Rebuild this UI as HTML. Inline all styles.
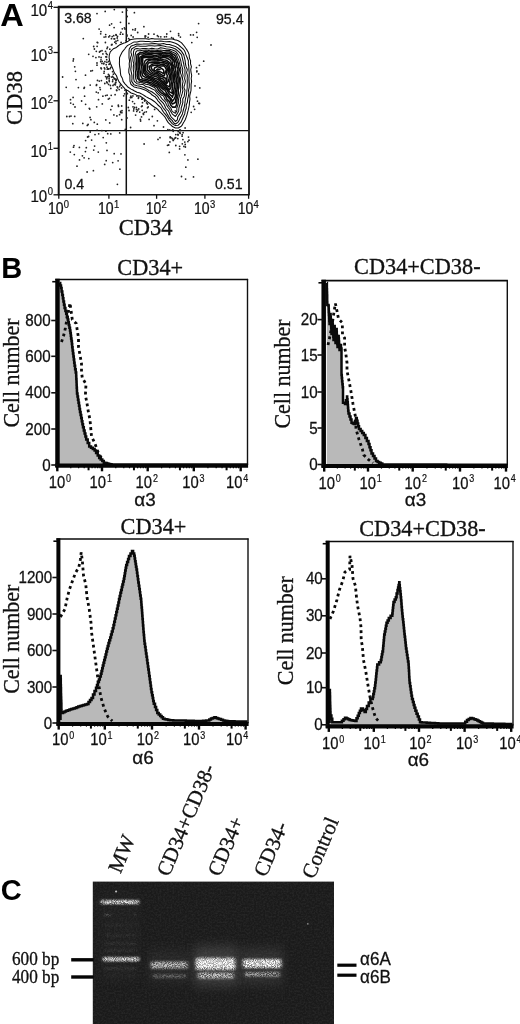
<!DOCTYPE html><html><head><meta charset="utf-8"><title>Figure</title><style>html,body{margin:0;padding:0;background:#fff}svg{display:block}</style></head><body>
<svg width="520" height="1024" viewBox="0 0 520 1024">
<defs>
<filter id="b1" x="-30%" y="-100%" width="160%" height="300%"><feGaussianBlur stdDeviation="1.6 1.1"/></filter>
<filter id="b2" x="-30%" y="-100%" width="160%" height="300%"><feGaussianBlur stdDeviation="2.0 1.5"/></filter>
<filter id="hz" x="-50%" y="-50%" width="200%" height="200%"><feGaussianBlur stdDeviation="5 6"/></filter>
<filter id="gn" x="0" y="0" width="100%" height="100%"><feTurbulence type="fractalNoise" baseFrequency="0.55" numOctaves="2" seed="11" result="n"/><feColorMatrix in="n" type="matrix" values="0 0 0 0 1  0 0 0 0 1  0 0 0 0 1  2.2 0 0 0 -0.75"/></filter>
<filter id="sp" x="-20%" y="-80%" width="140%" height="260%"><feGaussianBlur in="SourceGraphic" stdDeviation="1.7 1.25" result="b"/><feTurbulence type="fractalNoise" baseFrequency="1.1" numOctaves="1" seed="4" result="n"/><feColorMatrix in="n" type="matrix" values="0 0 0 0 1  0 0 0 0 1  0 0 0 0 1  3.6 0 0 0 -1.25" result="na"/><feComposite in="b" in2="na" operator="in"/></filter>
<clipPath id="gelclip"><rect x="92.8" y="881.6" width="241.2" height="142.4"/></clipPath>
</defs>
<rect width="520" height="1024" fill="#fff"/>
<g opacity="0.999">
<text transform="translate(0.30,25.60) scale(1.05,1)" font-family='"Liberation Sans", sans-serif' font-size="31" font-weight="bold" text-anchor="start" fill="#000" stroke="#000" stroke-width="0.0">A</text>
<line x1="57.80" y1="7.00" x2="249.70" y2="7.00" stroke="#111" stroke-width="2.3" />
<line x1="249.00" y1="7.30" x2="249.00" y2="194.80" stroke="#111" stroke-width="1.8" />
<line x1="57.80" y1="194.80" x2="249.70" y2="194.80" stroke="#111" stroke-width="1.6" />
<line x1="58.70" y1="7.30" x2="58.70" y2="194.80" stroke="#111" stroke-width="2.0" />
<line x1="126.30" y1="7.30" x2="126.30" y2="194.80" stroke="#111" stroke-width="1.5" />
<line x1="58.70" y1="130.60" x2="248.80" y2="130.60" stroke="#111" stroke-width="1.4" />
<line x1="53.50" y1="7.30" x2="58.70" y2="7.30" stroke="#111" stroke-width="1.3" />
<line x1="53.50" y1="52.50" x2="58.70" y2="52.50" stroke="#111" stroke-width="1.3" />
<line x1="53.50" y1="100.80" x2="58.70" y2="100.80" stroke="#111" stroke-width="1.3" />
<line x1="53.50" y1="148.30" x2="58.70" y2="148.30" stroke="#111" stroke-width="1.3" />
<line x1="53.50" y1="194.80" x2="58.70" y2="194.80" stroke="#111" stroke-width="1.3" />
<line x1="58.80" y1="194.80" x2="58.80" y2="198.80" stroke="#111" stroke-width="1.3" />
<line x1="108.90" y1="194.80" x2="108.90" y2="198.80" stroke="#111" stroke-width="1.3" />
<line x1="156.60" y1="194.80" x2="156.60" y2="198.80" stroke="#111" stroke-width="1.3" />
<line x1="204.90" y1="194.80" x2="204.90" y2="198.80" stroke="#111" stroke-width="1.3" />
<line x1="248.60" y1="194.80" x2="248.60" y2="198.80" stroke="#111" stroke-width="1.3" />
<text transform="translate(30.40,15.60) scale(0.88,1)" font-family='"Liberation Sans", sans-serif' font-size="17.2" fill="#111" stroke="#111" stroke-width="0.25">10</text>
<text transform="translate(47.80,9.20) scale(0.9,1)" font-family='"Liberation Sans", sans-serif' font-size="10.5" fill="#111" stroke="#111" stroke-width="0.2">4</text>
<text transform="translate(30.40,60.80) scale(0.88,1)" font-family='"Liberation Sans", sans-serif' font-size="17.2" fill="#111" stroke="#111" stroke-width="0.25">10</text>
<text transform="translate(47.80,54.40) scale(0.9,1)" font-family='"Liberation Sans", sans-serif' font-size="10.5" fill="#111" stroke="#111" stroke-width="0.2">3</text>
<text transform="translate(30.40,109.10) scale(0.88,1)" font-family='"Liberation Sans", sans-serif' font-size="17.2" fill="#111" stroke="#111" stroke-width="0.25">10</text>
<text transform="translate(47.80,102.70) scale(0.9,1)" font-family='"Liberation Sans", sans-serif' font-size="10.5" fill="#111" stroke="#111" stroke-width="0.2">2</text>
<text transform="translate(30.40,156.60) scale(0.88,1)" font-family='"Liberation Sans", sans-serif' font-size="17.2" fill="#111" stroke="#111" stroke-width="0.25">10</text>
<text transform="translate(47.80,150.20) scale(0.9,1)" font-family='"Liberation Sans", sans-serif' font-size="10.5" fill="#111" stroke="#111" stroke-width="0.2">1</text>
<text transform="translate(30.40,201.50) scale(0.88,1)" font-family='"Liberation Sans", sans-serif' font-size="17.2" fill="#111" stroke="#111" stroke-width="0.25">10</text>
<text transform="translate(47.80,195.10) scale(0.9,1)" font-family='"Liberation Sans", sans-serif' font-size="10.5" fill="#111" stroke="#111" stroke-width="0.2">0</text>
<text transform="translate(47.90,213.90) scale(0.9,1)" font-family='"Liberation Sans", sans-serif' font-size="15.6" fill="#111" stroke="#111" stroke-width="0.25">10</text>
<text transform="translate(63.80,207.50) scale(0.9,1)" font-family='"Liberation Sans", sans-serif' font-size="10.5" fill="#111" stroke="#111" stroke-width="0.2">0</text>
<text transform="translate(98.00,213.90) scale(0.9,1)" font-family='"Liberation Sans", sans-serif' font-size="15.6" fill="#111" stroke="#111" stroke-width="0.25">10</text>
<text transform="translate(113.90,207.50) scale(0.9,1)" font-family='"Liberation Sans", sans-serif' font-size="10.5" fill="#111" stroke="#111" stroke-width="0.2">1</text>
<text transform="translate(145.70,213.90) scale(0.9,1)" font-family='"Liberation Sans", sans-serif' font-size="15.6" fill="#111" stroke="#111" stroke-width="0.25">10</text>
<text transform="translate(161.60,207.50) scale(0.9,1)" font-family='"Liberation Sans", sans-serif' font-size="10.5" fill="#111" stroke="#111" stroke-width="0.2">2</text>
<text transform="translate(194.00,213.90) scale(0.9,1)" font-family='"Liberation Sans", sans-serif' font-size="15.6" fill="#111" stroke="#111" stroke-width="0.25">10</text>
<text transform="translate(209.90,207.50) scale(0.9,1)" font-family='"Liberation Sans", sans-serif' font-size="10.5" fill="#111" stroke="#111" stroke-width="0.2">3</text>
<text transform="translate(237.70,213.90) scale(0.9,1)" font-family='"Liberation Sans", sans-serif' font-size="15.6" fill="#111" stroke="#111" stroke-width="0.25">10</text>
<text transform="translate(253.60,207.50) scale(0.9,1)" font-family='"Liberation Sans", sans-serif' font-size="10.5" fill="#111" stroke="#111" stroke-width="0.2">4</text>
<text transform="translate(64.20,22.90) scale(0.92,1)" font-family='"Liberation Sans", sans-serif' font-size="15.4" font-weight="normal" text-anchor="start" fill="#111" stroke="#111" stroke-width="0.28">3.68</text>
<text transform="translate(216.00,23.80) scale(0.92,1)" font-family='"Liberation Sans", sans-serif' font-size="15.4" font-weight="normal" text-anchor="start" fill="#111" stroke="#111" stroke-width="0.28">95.4</text>
<text transform="translate(64.50,189.30) scale(0.92,1)" font-family='"Liberation Sans", sans-serif' font-size="15.4" font-weight="normal" text-anchor="start" fill="#111" stroke="#111" stroke-width="0.28">0.4</text>
<text transform="translate(215.00,189.30) scale(0.92,1)" font-family='"Liberation Sans", sans-serif' font-size="15.4" font-weight="normal" text-anchor="start" fill="#111" stroke="#111" stroke-width="0.28">0.51</text>
<text transform="translate(21.80,98.00) rotate(-90) scale(1.0,1)" font-family='"Liberation Serif", serif' font-size="22.5" font-style="normal" text-anchor="middle" fill="#111" stroke="#111" stroke-width="0.32">CD38</text>
<text transform="translate(145.70,234.60) rotate(0) scale(1.0,1)" font-family='"Liberation Serif", serif' font-size="22.5" font-style="normal" text-anchor="middle" fill="#111" stroke="#111" stroke-width="0.32">CD34</text>
<circle cx="113.4" cy="74.2" r="0.88" fill="#222"/>
<circle cx="106.7" cy="59.7" r="0.88" fill="#222"/>
<circle cx="99.3" cy="81.1" r="0.88" fill="#222"/>
<circle cx="99.1" cy="29.1" r="0.88" fill="#222"/>
<circle cx="107.1" cy="54.6" r="0.88" fill="#222"/>
<circle cx="109.4" cy="98.4" r="0.88" fill="#222"/>
<circle cx="121.6" cy="87.9" r="0.88" fill="#222"/>
<circle cx="109.8" cy="49.2" r="0.88" fill="#222"/>
<circle cx="111.5" cy="44.9" r="0.88" fill="#222"/>
<circle cx="110.8" cy="88.4" r="0.88" fill="#222"/>
<circle cx="107.9" cy="68.9" r="0.88" fill="#222"/>
<circle cx="120.3" cy="34.2" r="0.88" fill="#222"/>
<circle cx="116.5" cy="90.1" r="0.88" fill="#222"/>
<circle cx="95.9" cy="57.6" r="0.88" fill="#222"/>
<circle cx="101.4" cy="80.6" r="0.88" fill="#222"/>
<circle cx="117.2" cy="38.0" r="0.88" fill="#222"/>
<circle cx="111.5" cy="38.7" r="0.88" fill="#222"/>
<circle cx="106.3" cy="53.4" r="0.88" fill="#222"/>
<circle cx="128.9" cy="23.4" r="0.88" fill="#222"/>
<circle cx="101.4" cy="68.8" r="0.88" fill="#222"/>
<circle cx="97.0" cy="13.6" r="0.88" fill="#222"/>
<circle cx="104.8" cy="83.5" r="0.88" fill="#222"/>
<circle cx="100.3" cy="89.6" r="0.88" fill="#222"/>
<circle cx="96.3" cy="51.3" r="0.88" fill="#222"/>
<circle cx="124.4" cy="27.8" r="0.88" fill="#222"/>
<circle cx="114.2" cy="84.4" r="0.88" fill="#222"/>
<circle cx="102.9" cy="96.2" r="0.88" fill="#222"/>
<circle cx="117.2" cy="86.9" r="0.88" fill="#222"/>
<circle cx="107.2" cy="82.9" r="0.88" fill="#222"/>
<circle cx="102.2" cy="61.3" r="0.88" fill="#222"/>
<circle cx="128.6" cy="38.6" r="0.88" fill="#222"/>
<circle cx="108.1" cy="76.6" r="0.88" fill="#222"/>
<circle cx="115.9" cy="82.5" r="0.88" fill="#222"/>
<circle cx="112.6" cy="71.7" r="0.88" fill="#222"/>
<circle cx="134.4" cy="12.7" r="0.88" fill="#222"/>
<circle cx="104.8" cy="68.9" r="0.88" fill="#222"/>
<circle cx="111.7" cy="77.1" r="0.88" fill="#222"/>
<circle cx="88.7" cy="54.3" r="0.88" fill="#222"/>
<circle cx="126.1" cy="40.6" r="0.88" fill="#222"/>
<circle cx="115.3" cy="83.1" r="0.88" fill="#222"/>
<circle cx="124.6" cy="93.8" r="0.88" fill="#222"/>
<circle cx="99.0" cy="56.9" r="0.88" fill="#222"/>
<circle cx="112.6" cy="76.5" r="0.88" fill="#222"/>
<circle cx="126.9" cy="10.3" r="0.88" fill="#222"/>
<circle cx="126.9" cy="35.0" r="0.88" fill="#222"/>
<circle cx="122.8" cy="34.2" r="0.88" fill="#222"/>
<circle cx="117.8" cy="87.9" r="0.88" fill="#222"/>
<circle cx="115.1" cy="94.7" r="0.88" fill="#222"/>
<circle cx="100.7" cy="33.8" r="0.88" fill="#222"/>
<circle cx="105.7" cy="34.6" r="0.88" fill="#222"/>
<circle cx="116.0" cy="41.2" r="0.88" fill="#222"/>
<circle cx="123.7" cy="95.8" r="0.88" fill="#222"/>
<circle cx="107.1" cy="95.2" r="0.88" fill="#222"/>
<circle cx="96.3" cy="92.1" r="0.88" fill="#222"/>
<circle cx="127.4" cy="93.7" r="0.88" fill="#222"/>
<circle cx="108.6" cy="84.4" r="0.88" fill="#222"/>
<circle cx="93.0" cy="56.3" r="0.88" fill="#222"/>
<circle cx="97.5" cy="80.4" r="0.88" fill="#222"/>
<circle cx="115.9" cy="80.7" r="0.88" fill="#222"/>
<circle cx="116.8" cy="90.5" r="0.88" fill="#222"/>
<circle cx="115.4" cy="84.8" r="0.88" fill="#222"/>
<circle cx="130.9" cy="96.2" r="0.88" fill="#222"/>
<circle cx="109.3" cy="81.6" r="0.88" fill="#222"/>
<circle cx="97.2" cy="42.3" r="0.88" fill="#222"/>
<circle cx="96.4" cy="85.4" r="0.88" fill="#222"/>
<circle cx="103.7" cy="63.7" r="0.88" fill="#222"/>
<circle cx="110.1" cy="68.7" r="0.88" fill="#222"/>
<circle cx="114.0" cy="38.8" r="0.88" fill="#222"/>
<circle cx="110.4" cy="85.5" r="0.88" fill="#222"/>
<circle cx="99.5" cy="52.0" r="0.88" fill="#222"/>
<circle cx="116.1" cy="80.1" r="0.88" fill="#222"/>
<circle cx="117.7" cy="40.4" r="0.88" fill="#222"/>
<circle cx="100.4" cy="51.2" r="0.88" fill="#222"/>
<circle cx="107.0" cy="48.6" r="0.88" fill="#222"/>
<circle cx="100.7" cy="61.7" r="0.88" fill="#222"/>
<circle cx="104.2" cy="71.3" r="0.88" fill="#222"/>
<circle cx="92.4" cy="70.6" r="0.88" fill="#222"/>
<circle cx="109.6" cy="25.2" r="0.88" fill="#222"/>
<circle cx="93.7" cy="46.5" r="0.88" fill="#222"/>
<circle cx="120.5" cy="22.3" r="0.88" fill="#222"/>
<circle cx="125.0" cy="90.2" r="0.88" fill="#222"/>
<circle cx="135.4" cy="28.8" r="0.88" fill="#222"/>
<circle cx="120.7" cy="112.5" r="0.88" fill="#222"/>
<circle cx="106.7" cy="77.8" r="0.88" fill="#222"/>
<circle cx="106.9" cy="62.2" r="0.88" fill="#222"/>
<circle cx="105.8" cy="56.8" r="0.88" fill="#222"/>
<circle cx="107.5" cy="47.2" r="0.88" fill="#222"/>
<circle cx="122.4" cy="12.1" r="0.88" fill="#222"/>
<circle cx="96.6" cy="84.7" r="0.88" fill="#222"/>
<circle cx="129.3" cy="100.2" r="0.88" fill="#222"/>
<circle cx="102.0" cy="50.7" r="0.88" fill="#222"/>
<circle cx="112.0" cy="44.5" r="0.88" fill="#222"/>
<circle cx="104.1" cy="37.1" r="0.88" fill="#222"/>
<circle cx="107.3" cy="69.2" r="0.88" fill="#222"/>
<circle cx="94.4" cy="49.0" r="0.88" fill="#222"/>
<circle cx="108.7" cy="61.5" r="0.88" fill="#222"/>
<circle cx="112.8" cy="79.8" r="0.88" fill="#222"/>
<circle cx="109.7" cy="64.0" r="0.88" fill="#222"/>
<circle cx="114.7" cy="38.8" r="0.88" fill="#222"/>
<circle cx="120.2" cy="85.1" r="0.88" fill="#222"/>
<circle cx="97.0" cy="65.2" r="0.88" fill="#222"/>
<circle cx="106.7" cy="78.8" r="0.88" fill="#222"/>
<circle cx="105.2" cy="11.4" r="0.88" fill="#222"/>
<circle cx="105.6" cy="95.6" r="0.88" fill="#222"/>
<circle cx="112.2" cy="36.6" r="0.88" fill="#222"/>
<circle cx="108.4" cy="74.4" r="0.88" fill="#222"/>
<circle cx="114.5" cy="78.6" r="0.88" fill="#222"/>
<circle cx="113.0" cy="85.4" r="0.88" fill="#222"/>
<circle cx="113.9" cy="114.9" r="0.88" fill="#222"/>
<circle cx="116.9" cy="115.9" r="0.88" fill="#222"/>
<circle cx="112.6" cy="81.5" r="0.88" fill="#222"/>
<circle cx="104.3" cy="67.8" r="0.88" fill="#222"/>
<circle cx="119.6" cy="86.6" r="0.88" fill="#222"/>
<circle cx="113.6" cy="77.7" r="0.88" fill="#222"/>
<circle cx="105.5" cy="51.4" r="0.88" fill="#222"/>
<circle cx="116.0" cy="34.7" r="0.88" fill="#222"/>
<circle cx="111.6" cy="23.8" r="0.88" fill="#222"/>
<circle cx="109.2" cy="75.4" r="0.88" fill="#222"/>
<circle cx="113.7" cy="35.7" r="0.88" fill="#222"/>
<circle cx="114.1" cy="27.6" r="0.88" fill="#222"/>
<circle cx="97.0" cy="63.0" r="0.88" fill="#222"/>
<circle cx="122.3" cy="28.8" r="0.88" fill="#222"/>
<circle cx="97.7" cy="42.7" r="0.88" fill="#222"/>
<circle cx="109.7" cy="35.9" r="0.88" fill="#222"/>
<circle cx="102.9" cy="53.9" r="0.88" fill="#222"/>
<circle cx="105.4" cy="42.5" r="0.88" fill="#222"/>
<circle cx="120.9" cy="32.3" r="0.88" fill="#222"/>
<circle cx="103.6" cy="63.5" r="0.88" fill="#222"/>
<circle cx="114.3" cy="9.6" r="0.88" fill="#222"/>
<circle cx="106.2" cy="64.7" r="0.88" fill="#222"/>
<circle cx="101.0" cy="68.0" r="0.88" fill="#222"/>
<circle cx="117.5" cy="36.4" r="0.88" fill="#222"/>
<circle cx="108.8" cy="36.9" r="0.88" fill="#222"/>
<circle cx="104.9" cy="61.7" r="0.88" fill="#222"/>
<circle cx="127.2" cy="16.5" r="0.88" fill="#222"/>
<circle cx="108.5" cy="68.9" r="0.88" fill="#222"/>
<circle cx="122.0" cy="110.7" r="0.88" fill="#222"/>
<circle cx="119.2" cy="89.6" r="0.88" fill="#222"/>
<circle cx="121.1" cy="42.4" r="0.88" fill="#222"/>
<circle cx="118.5" cy="106.4" r="0.88" fill="#222"/>
<circle cx="107.9" cy="69.2" r="0.88" fill="#222"/>
<circle cx="108.3" cy="99.1" r="0.88" fill="#222"/>
<circle cx="109.1" cy="78.4" r="0.88" fill="#222"/>
<circle cx="109.2" cy="80.2" r="0.88" fill="#222"/>
<circle cx="110.8" cy="109.7" r="0.88" fill="#222"/>
<circle cx="116.0" cy="79.7" r="0.88" fill="#222"/>
<circle cx="98.5" cy="99.7" r="0.88" fill="#222"/>
<circle cx="129.7" cy="39.7" r="0.88" fill="#222"/>
<circle cx="100.9" cy="31.6" r="0.88" fill="#222"/>
<circle cx="114.8" cy="42.2" r="0.88" fill="#222"/>
<circle cx="116.2" cy="35.2" r="0.88" fill="#222"/>
<circle cx="107.0" cy="67.2" r="0.88" fill="#222"/>
<circle cx="111.2" cy="95.3" r="0.88" fill="#222"/>
<circle cx="106.6" cy="56.9" r="0.88" fill="#222"/>
<circle cx="121.7" cy="106.0" r="0.88" fill="#222"/>
<circle cx="109.0" cy="64.3" r="0.88" fill="#222"/>
<circle cx="143.9" cy="26.7" r="0.88" fill="#222"/>
<circle cx="110.8" cy="67.4" r="0.88" fill="#222"/>
<circle cx="116.5" cy="79.4" r="0.88" fill="#222"/>
<circle cx="97.1" cy="46.3" r="0.88" fill="#222"/>
<circle cx="116.0" cy="43.4" r="0.88" fill="#222"/>
<circle cx="105.6" cy="76.6" r="0.88" fill="#222"/>
<circle cx="109.5" cy="76.7" r="0.88" fill="#222"/>
<circle cx="101.9" cy="63.4" r="0.88" fill="#222"/>
<circle cx="115.0" cy="79.0" r="0.88" fill="#222"/>
<circle cx="107.2" cy="76.8" r="0.88" fill="#222"/>
<circle cx="98.2" cy="92.8" r="0.88" fill="#222"/>
<circle cx="125.0" cy="29.0" r="0.88" fill="#222"/>
<circle cx="101.0" cy="59.8" r="0.88" fill="#222"/>
<circle cx="105.8" cy="36.8" r="0.88" fill="#222"/>
<circle cx="133.1" cy="37.0" r="0.88" fill="#222"/>
<circle cx="197.2" cy="37.3" r="0.88" fill="#222"/>
<circle cx="148.6" cy="34.0" r="0.88" fill="#222"/>
<circle cx="171.6" cy="37.6" r="0.88" fill="#222"/>
<circle cx="137.7" cy="32.5" r="0.88" fill="#222"/>
<circle cx="166.4" cy="36.7" r="0.88" fill="#222"/>
<circle cx="131.2" cy="35.4" r="0.88" fill="#222"/>
<circle cx="148.1" cy="37.4" r="0.88" fill="#222"/>
<circle cx="157.4" cy="35.7" r="0.88" fill="#222"/>
<circle cx="190.6" cy="34.9" r="0.88" fill="#222"/>
<circle cx="178.6" cy="33.7" r="0.88" fill="#222"/>
<circle cx="193.3" cy="34.9" r="0.88" fill="#222"/>
<circle cx="158.4" cy="36.6" r="0.88" fill="#222"/>
<circle cx="127.0" cy="36.0" r="0.88" fill="#222"/>
<circle cx="145.1" cy="37.1" r="0.88" fill="#222"/>
<circle cx="135.1" cy="30.1" r="0.88" fill="#222"/>
<circle cx="160.8" cy="36.8" r="0.88" fill="#222"/>
<circle cx="154.0" cy="34.2" r="0.88" fill="#222"/>
<circle cx="170.5" cy="31.3" r="0.88" fill="#222"/>
<circle cx="145.1" cy="35.9" r="0.88" fill="#222"/>
<circle cx="178.7" cy="35.5" r="0.88" fill="#222"/>
<circle cx="166.8" cy="34.0" r="0.88" fill="#222"/>
<circle cx="145.8" cy="36.1" r="0.88" fill="#222"/>
<circle cx="132.8" cy="29.7" r="0.88" fill="#222"/>
<circle cx="173.3" cy="38.4" r="0.88" fill="#222"/>
<circle cx="164.5" cy="36.8" r="0.88" fill="#222"/>
<circle cx="180.4" cy="37.1" r="0.88" fill="#222"/>
<circle cx="196.6" cy="32.3" r="0.88" fill="#222"/>
<circle cx="154.0" cy="125.7" r="0.88" fill="#222"/>
<circle cx="141.9" cy="99.2" r="0.88" fill="#222"/>
<circle cx="133.8" cy="109.0" r="0.88" fill="#222"/>
<circle cx="142.5" cy="102.7" r="0.88" fill="#222"/>
<circle cx="139.7" cy="112.1" r="0.88" fill="#222"/>
<circle cx="127.0" cy="118.0" r="0.88" fill="#222"/>
<circle cx="121.7" cy="119.7" r="0.88" fill="#222"/>
<circle cx="146.3" cy="111.8" r="0.88" fill="#222"/>
<circle cx="144.6" cy="100.4" r="0.88" fill="#222"/>
<circle cx="121.9" cy="112.7" r="0.88" fill="#222"/>
<circle cx="142.4" cy="98.8" r="0.88" fill="#222"/>
<circle cx="146.6" cy="102.9" r="0.88" fill="#222"/>
<circle cx="136.5" cy="109.4" r="0.88" fill="#222"/>
<circle cx="140.4" cy="119.4" r="0.88" fill="#222"/>
<circle cx="137.8" cy="110.1" r="0.88" fill="#222"/>
<circle cx="144.7" cy="101.1" r="0.88" fill="#222"/>
<circle cx="143.5" cy="114.4" r="0.88" fill="#222"/>
<circle cx="134.5" cy="107.5" r="0.88" fill="#222"/>
<circle cx="128.3" cy="107.5" r="0.88" fill="#222"/>
<circle cx="132.9" cy="95.9" r="0.88" fill="#222"/>
<circle cx="136.8" cy="111.4" r="0.88" fill="#222"/>
<circle cx="149.1" cy="119.4" r="0.88" fill="#222"/>
<circle cx="142.1" cy="106.0" r="0.88" fill="#222"/>
<circle cx="125.3" cy="129.4" r="0.88" fill="#222"/>
<circle cx="141.5" cy="106.6" r="0.88" fill="#222"/>
<circle cx="154.6" cy="109.4" r="0.88" fill="#222"/>
<circle cx="143.3" cy="113.4" r="0.88" fill="#222"/>
<circle cx="138.6" cy="97.2" r="0.88" fill="#222"/>
<circle cx="130.5" cy="97.7" r="0.88" fill="#222"/>
<circle cx="142.2" cy="110.3" r="0.88" fill="#222"/>
<circle cx="157.4" cy="120.8" r="0.88" fill="#222"/>
<circle cx="131.8" cy="97.4" r="0.88" fill="#222"/>
<circle cx="109.7" cy="122.9" r="0.88" fill="#222"/>
<circle cx="132.6" cy="101.6" r="0.88" fill="#222"/>
<circle cx="118.3" cy="105.2" r="0.88" fill="#222"/>
<circle cx="148.2" cy="106.9" r="0.88" fill="#222"/>
<circle cx="140.6" cy="121.0" r="0.88" fill="#222"/>
<circle cx="127.1" cy="93.3" r="0.88" fill="#222"/>
<circle cx="144.5" cy="112.3" r="0.88" fill="#222"/>
<circle cx="147.5" cy="107.8" r="0.88" fill="#222"/>
<circle cx="141.5" cy="116.9" r="0.88" fill="#222"/>
<circle cx="136.9" cy="96.0" r="0.88" fill="#222"/>
<circle cx="138.7" cy="108.9" r="0.88" fill="#222"/>
<circle cx="147.5" cy="104.0" r="0.88" fill="#222"/>
<circle cx="129.0" cy="110.5" r="0.88" fill="#222"/>
<circle cx="138.4" cy="98.3" r="0.88" fill="#222"/>
<circle cx="152.3" cy="116.5" r="0.88" fill="#222"/>
<circle cx="133.0" cy="106.8" r="0.88" fill="#222"/>
<circle cx="130.6" cy="127.5" r="0.88" fill="#222"/>
<circle cx="135.6" cy="115.1" r="0.88" fill="#222"/>
<circle cx="133.6" cy="110.9" r="0.88" fill="#222"/>
<circle cx="136.4" cy="107.5" r="0.88" fill="#222"/>
<circle cx="120.6" cy="111.4" r="0.88" fill="#222"/>
<circle cx="119.6" cy="114.7" r="0.88" fill="#222"/>
<circle cx="134.5" cy="103.6" r="0.88" fill="#222"/>
<circle cx="199.8" cy="87.9" r="0.88" fill="#222"/>
<circle cx="191.8" cy="42.6" r="0.88" fill="#222"/>
<circle cx="199.5" cy="103.5" r="0.88" fill="#222"/>
<circle cx="193.6" cy="106.5" r="0.88" fill="#222"/>
<circle cx="197.5" cy="101.2" r="0.88" fill="#222"/>
<circle cx="198.7" cy="103.3" r="0.88" fill="#222"/>
<circle cx="198.6" cy="23.6" r="0.88" fill="#222"/>
<circle cx="196.5" cy="97.3" r="0.88" fill="#222"/>
<circle cx="203.7" cy="61.2" r="0.88" fill="#222"/>
<circle cx="195.0" cy="85.9" r="0.88" fill="#222"/>
<circle cx="198.7" cy="73.9" r="0.88" fill="#222"/>
<circle cx="199.4" cy="65.3" r="0.88" fill="#222"/>
<circle cx="196.8" cy="71.8" r="0.88" fill="#222"/>
<circle cx="196.5" cy="67.7" r="0.88" fill="#222"/>
<circle cx="191.2" cy="112.3" r="0.88" fill="#222"/>
<circle cx="196.9" cy="71.0" r="0.88" fill="#222"/>
<circle cx="179.6" cy="148.9" r="0.88" fill="#222"/>
<circle cx="170.2" cy="136.8" r="0.88" fill="#222"/>
<circle cx="182.3" cy="143.8" r="0.88" fill="#222"/>
<circle cx="187.9" cy="141.6" r="0.88" fill="#222"/>
<circle cx="178.1" cy="134.9" r="0.88" fill="#222"/>
<circle cx="180.1" cy="133.3" r="0.88" fill="#222"/>
<circle cx="169.8" cy="129.9" r="0.88" fill="#222"/>
<circle cx="173.2" cy="131.3" r="0.88" fill="#222"/>
<circle cx="168.7" cy="145.0" r="0.88" fill="#222"/>
<circle cx="167.5" cy="145.3" r="0.88" fill="#222"/>
<circle cx="169.9" cy="141.9" r="0.88" fill="#222"/>
<circle cx="189.0" cy="140.2" r="0.88" fill="#222"/>
<circle cx="172.2" cy="138.5" r="0.88" fill="#222"/>
<circle cx="173.1" cy="139.8" r="0.88" fill="#222"/>
<circle cx="174.2" cy="138.9" r="0.88" fill="#222"/>
<circle cx="183.9" cy="146.4" r="0.88" fill="#222"/>
<circle cx="185.2" cy="144.5" r="0.88" fill="#222"/>
<circle cx="175.7" cy="137.8" r="0.88" fill="#222"/>
<circle cx="175.8" cy="134.6" r="0.88" fill="#222"/>
<circle cx="175.3" cy="137.7" r="0.88" fill="#222"/>
<circle cx="170.2" cy="137.7" r="0.88" fill="#222"/>
<circle cx="182.1" cy="136.2" r="0.88" fill="#222"/>
<circle cx="194.6" cy="109.3" r="0.88" fill="#222"/>
<circle cx="185.8" cy="167.2" r="0.88" fill="#222"/>
<circle cx="158.0" cy="139.4" r="0.88" fill="#222"/>
<circle cx="182.2" cy="134.7" r="0.88" fill="#222"/>
<circle cx="184.8" cy="142.1" r="0.88" fill="#222"/>
<circle cx="178.2" cy="131.5" r="0.88" fill="#222"/>
<circle cx="183.1" cy="132.7" r="0.88" fill="#222"/>
<circle cx="179.8" cy="132.4" r="0.88" fill="#222"/>
<circle cx="160.0" cy="137.7" r="0.88" fill="#222"/>
<circle cx="179.6" cy="146.3" r="0.88" fill="#222"/>
<circle cx="171.0" cy="137.6" r="0.88" fill="#222"/>
<circle cx="182.9" cy="139.6" r="0.88" fill="#222"/>
<circle cx="187.9" cy="159.9" r="0.88" fill="#222"/>
<circle cx="184.9" cy="154.8" r="0.88" fill="#222"/>
<circle cx="185.4" cy="147.0" r="0.88" fill="#222"/>
<circle cx="173.1" cy="130.2" r="0.88" fill="#222"/>
<circle cx="185.1" cy="128.0" r="0.88" fill="#222"/>
<circle cx="163.5" cy="127.0" r="0.88" fill="#222"/>
<circle cx="197.9" cy="159.2" r="0.88" fill="#222"/>
<circle cx="172.5" cy="130.0" r="0.88" fill="#222"/>
<circle cx="179.9" cy="129.8" r="0.88" fill="#222"/>
<circle cx="188.5" cy="137.1" r="0.88" fill="#222"/>
<circle cx="169.3" cy="152.4" r="0.88" fill="#222"/>
<circle cx="173.3" cy="140.4" r="0.88" fill="#222"/>
<circle cx="177.9" cy="134.5" r="0.88" fill="#222"/>
<circle cx="180.6" cy="130.4" r="0.88" fill="#222"/>
<circle cx="167.9" cy="129.7" r="0.88" fill="#222"/>
<circle cx="177.8" cy="138.6" r="0.88" fill="#222"/>
<circle cx="95.0" cy="134.6" r="0.88" fill="#222"/>
<circle cx="70.7" cy="103.1" r="0.88" fill="#222"/>
<circle cx="93.7" cy="150.1" r="0.88" fill="#222"/>
<circle cx="82.8" cy="123.4" r="0.88" fill="#222"/>
<circle cx="101.9" cy="130.6" r="0.88" fill="#222"/>
<circle cx="98.3" cy="152.1" r="0.88" fill="#222"/>
<circle cx="74.7" cy="116.4" r="0.88" fill="#222"/>
<circle cx="70.5" cy="99.7" r="0.88" fill="#222"/>
<circle cx="85.4" cy="151.6" r="0.88" fill="#222"/>
<circle cx="106.2" cy="160.7" r="0.88" fill="#222"/>
<circle cx="106.7" cy="82.0" r="0.88" fill="#222"/>
<circle cx="73.5" cy="147.2" r="0.88" fill="#222"/>
<circle cx="110.8" cy="133.9" r="0.88" fill="#222"/>
<circle cx="69.5" cy="116.5" r="0.88" fill="#222"/>
<circle cx="73.1" cy="97.4" r="0.88" fill="#222"/>
<circle cx="112.0" cy="106.2" r="0.88" fill="#222"/>
<circle cx="106.3" cy="142.8" r="0.88" fill="#222"/>
<circle cx="74.0" cy="145.6" r="0.88" fill="#222"/>
<circle cx="114.2" cy="153.7" r="0.88" fill="#222"/>
<circle cx="107.7" cy="133.7" r="0.88" fill="#222"/>
<circle cx="94.3" cy="122.4" r="0.88" fill="#222"/>
<circle cx="89.3" cy="108.3" r="0.88" fill="#222"/>
<circle cx="79.5" cy="159.9" r="0.88" fill="#222"/>
<circle cx="121.0" cy="153.9" r="0.88" fill="#222"/>
<circle cx="90.9" cy="71.0" r="0.88" fill="#222"/>
<circle cx="119.7" cy="132.9" r="0.88" fill="#222"/>
<circle cx="84.4" cy="87.5" r="0.88" fill="#222"/>
<circle cx="84.0" cy="88.3" r="0.88" fill="#222"/>
<circle cx="86.3" cy="147.7" r="0.88" fill="#222"/>
<circle cx="85.6" cy="140.6" r="0.88" fill="#222"/>
<circle cx="73.2" cy="60.9" r="0.88" fill="#222"/>
<circle cx="81.6" cy="101.0" r="0.88" fill="#222"/>
<circle cx="66.8" cy="116.5" r="0.88" fill="#222"/>
<circle cx="90.2" cy="85.1" r="0.88" fill="#222"/>
<circle cx="97.3" cy="124.2" r="0.88" fill="#222"/>
<circle cx="87.3" cy="125.4" r="0.88" fill="#222"/>
<circle cx="84.1" cy="157.8" r="0.88" fill="#222"/>
<circle cx="83.3" cy="38.6" r="0.88" fill="#222"/>
<circle cx="84.6" cy="96.2" r="0.88" fill="#222"/>
<circle cx="96.7" cy="106.8" r="0.88" fill="#222"/>
<circle cx="66.2" cy="87.3" r="0.88" fill="#222"/>
<circle cx="73.5" cy="59.0" r="0.88" fill="#222"/>
<circle cx="71.0" cy="116.1" r="0.88" fill="#222"/>
<circle cx="119.9" cy="169.2" r="0.88" fill="#222"/>
<circle cx="87.6" cy="137.0" r="0.88" fill="#222"/>
<circle cx="117.4" cy="184.3" r="0.88" fill="#222"/>
<circle cx="79.4" cy="147.4" r="0.88" fill="#222"/>
<circle cx="90.2" cy="132.0" r="0.88" fill="#222"/>
<circle cx="76.0" cy="79.6" r="0.88" fill="#222"/>
<circle cx="75.4" cy="71.3" r="0.88" fill="#222"/>
<circle cx="107.0" cy="150.4" r="0.88" fill="#222"/>
<circle cx="101.1" cy="57.5" r="0.88" fill="#222"/>
<circle cx="118.1" cy="160.8" r="0.88" fill="#222"/>
<circle cx="94.6" cy="146.1" r="0.88" fill="#222"/>
<circle cx="88.6" cy="136.5" r="0.88" fill="#222"/>
<circle cx="104.0" cy="73.2" r="0.88" fill="#222"/>
<circle cx="62.6" cy="77.0" r="0.88" fill="#222"/>
<circle cx="75.0" cy="107.0" r="0.88" fill="#222"/>
<circle cx="91.6" cy="140.1" r="0.88" fill="#222"/>
<circle cx="85.6" cy="104.3" r="0.88" fill="#222"/>
<circle cx="77.0" cy="166.2" r="0.88" fill="#222"/>
<circle cx="98.7" cy="133.8" r="0.88" fill="#222"/>
<circle cx="74.3" cy="154.6" r="0.88" fill="#222"/>
<circle cx="105.8" cy="119.9" r="0.88" fill="#222"/>
<circle cx="99.9" cy="87.6" r="0.88" fill="#222"/>
<circle cx="103.2" cy="137.6" r="0.88" fill="#222"/>
<circle cx="72.8" cy="123.7" r="0.88" fill="#222"/>
<circle cx="90.1" cy="117.4" r="0.88" fill="#222"/>
<circle cx="89.7" cy="109.0" r="0.88" fill="#222"/>
<circle cx="97.1" cy="130.2" r="0.88" fill="#222"/>
<circle cx="105.9" cy="131.2" r="0.88" fill="#222"/>
<circle cx="93.4" cy="170.7" r="0.88" fill="#222"/>
<circle cx="82.4" cy="155.8" r="0.88" fill="#222"/>
<circle cx="78.4" cy="87.6" r="0.88" fill="#222"/>
<circle cx="104.7" cy="164.4" r="0.88" fill="#222"/>
<circle cx="112.7" cy="162.6" r="0.88" fill="#222"/>
<circle cx="74.7" cy="66.8" r="0.88" fill="#222"/>
<circle cx="73.3" cy="104.3" r="0.88" fill="#222"/>
<circle cx="70.3" cy="152.1" r="0.88" fill="#222"/>
<circle cx="90.9" cy="119.7" r="0.88" fill="#222"/>
<circle cx="88.1" cy="124.5" r="0.88" fill="#222"/>
<circle cx="88.8" cy="158.6" r="0.88" fill="#222"/>
<circle cx="102.3" cy="103.9" r="0.88" fill="#222"/>
<circle cx="87.1" cy="172.0" r="0.88" fill="#222"/>
<circle cx="85.5" cy="75.2" r="0.88" fill="#222"/>
<circle cx="154.5" cy="175.9" r="0.88" fill="#222"/>
<circle cx="144.1" cy="144.0" r="0.88" fill="#222"/>
<circle cx="185.6" cy="179.1" r="0.88" fill="#222"/>
<circle cx="175.8" cy="145.5" r="0.88" fill="#222"/>
<circle cx="193.5" cy="176.9" r="0.88" fill="#222"/>
<circle cx="211.0" cy="45.0" r="0.88" fill="#222"/>
<circle cx="181.5" cy="176.5" r="0.88" fill="#222"/>
<path d="M129.7,40.1L131.1,39.6L134.1,39.1L137.0,38.8L140.0,38.8L142.9,38.8L145.9,38.7L148.8,39.3L151.8,38.6L154.7,39.0L157.7,39.0L160.6,39.1L163.6,39.2L166.5,39.2L169.5,39.0L172.4,39.1L175.4,40.0L176.2,40.1L178.3,40.7L181.3,42.6L181.8,43.1L184.2,46.0L184.2,46.0L186.3,49.0L187.2,50.4L188.1,51.9L189.2,54.9L189.4,57.8L190.1,59.6L190.6,60.8L190.5,63.7L191.4,66.7L190.7,69.6L191.1,72.6L191.7,75.5L191.2,78.5L191.6,81.4L191.1,84.4L191.1,87.3L191.0,90.3L190.4,93.2L190.1,94.2L189.7,96.2L190.0,99.1L189.5,102.1L189.3,105.0L188.7,108.0L188.0,110.9L187.2,113.9L187.2,114.2L186.3,116.8L185.2,119.8L184.2,121.5L183.4,122.7L181.8,125.7L181.3,126.2L178.3,128.0L175.4,127.9L172.4,126.6L171.6,125.7L169.5,123.8L168.3,122.7L166.5,119.9L166.5,119.8L164.8,116.8L163.6,115.5L162.1,113.9L160.6,112.4L159.0,110.9L157.7,109.3L156.0,108.0L154.7,107.2L151.8,105.3L151.5,105.0L148.8,102.7L148.0,102.1L145.9,100.4L144.5,99.1L142.9,98.0L140.3,96.2L140.0,96.0L137.0,95.4L134.1,93.9L131.9,93.2L131.1,93.0L128.2,90.8L127.1,90.3L125.2,89.1L123.7,87.3L122.3,85.9L121.1,84.4L119.3,82.2L118.8,81.4L117.5,78.5L116.4,75.5L116.4,75.5L114.2,72.6L113.4,70.3L113.2,69.6L111.9,66.7L110.6,63.7L110.5,63.4L109.7,60.8L109.1,57.8L109.3,54.9L110.3,51.9L110.5,51.7L113.1,49.0L113.4,48.8L116.4,47.4L118.1,46.0L119.3,45.1L122.3,43.7L123.9,43.1L125.2,42.7L128.2,41.2L129.7,40.1Z" fill="#fff" stroke="none"/>
<path d="M131.3,46.0L134.1,45.1L137.0,43.9L140.0,44.2L142.9,44.1L145.9,43.9L148.8,44.0L151.8,43.7L154.7,43.6L157.7,44.1L160.6,44.1L163.6,43.6L166.5,44.4L169.5,44.4L172.4,45.6L174.1,46.0L175.4,46.4L178.3,48.3L179.1,49.0L181.3,51.0L181.9,51.9L183.8,54.9L184.2,56.7L184.5,57.8L185.2,60.8L185.4,63.7L186.1,66.7L187.2,69.3L187.3,69.6L187.2,70.2L186.6,72.6L187.2,74.7L187.4,75.5L187.2,78.0L187.1,78.5L187.2,79.1L187.3,81.4L187.2,84.4L187.2,87.3L187.2,88.0L186.9,90.3L186.6,93.2L186.1,96.2L185.4,99.1L185.0,102.1L184.7,105.0L184.2,107.0L183.9,108.0L183.1,111.0L182.4,113.9L181.3,116.1L180.8,116.8L179.4,119.8L178.3,121.9L177.4,122.7L175.4,124.0L173.5,122.7L172.4,120.7L171.5,119.8L169.5,118.0L168.9,116.8L167.1,113.9L166.5,112.6L165.7,110.9L163.6,108.4L163.3,108.0L161.5,105.0L160.6,103.8L159.2,102.1L157.7,100.6L156.9,99.1L154.7,96.4L154.1,96.2L151.8,94.8L150.4,93.2L148.8,92.3L145.9,90.4L145.6,90.3L142.9,89.3L140.0,88.3L137.0,87.8L135.5,87.3L134.1,86.9L131.1,84.5L131.0,84.4L130.0,81.4L129.9,78.5L129.9,75.5L128.8,72.6L128.8,69.6L129.4,66.7L129.2,63.8L129.6,60.8L129.0,57.8L129.0,54.9L129.0,51.9L129.2,49.0L131.1,46.1L131.3,46.0Z" fill="none" stroke="#0a0a0a" stroke-width="1.05" stroke-linejoin="round"/>
<path d="M136.7,46.0L137.0,45.9L138.7,46.0L140.0,46.2L142.9,46.3L145.9,46.3L147.3,46.0L148.8,45.8L151.8,45.7L154.4,46.0L154.7,46.1L154.9,46.0L157.7,45.7L160.6,45.5L163.4,46.0L163.6,46.1L166.5,46.7L169.5,47.1L172.4,47.8L175.4,48.9L175.5,49.0L178.3,51.3L178.9,51.9L181.3,54.4L181.6,54.9L182.3,57.8L183.0,60.8L183.7,63.8L184.2,66.7L184.2,66.7L185.1,69.6L184.9,72.6L185.1,75.5L184.6,78.5L185.4,81.4L184.7,84.4L184.2,86.0L183.9,87.3L184.2,88.2L185.0,90.3L184.6,93.2L184.2,96.2L184.2,96.3L182.7,99.1L182.9,102.1L182.2,105.0L181.3,107.7L181.2,108.0L181.2,110.9L179.7,113.9L178.3,116.1L177.8,116.8L177.3,119.8L175.4,121.5L174.2,119.8L172.4,118.1L171.1,116.8L169.7,113.9L169.5,113.3L168.4,110.9L166.5,109.0L165.7,108.0L164.4,105.0L163.6,103.7L162.3,102.1L160.6,100.5L159.2,99.1L157.7,96.6L157.4,96.2L154.7,93.9L153.8,93.2L151.8,91.8L148.8,90.5L148.5,90.3L145.9,88.6L143.1,87.3L142.9,87.2L140.0,86.2L137.0,85.7L134.1,84.7L133.7,84.4L131.7,81.4L132.0,78.5L131.9,75.5L131.4,72.6L131.1,71.3L130.8,69.6L131.1,67.1L131.2,66.7L131.3,63.7L131.1,61.8L131.0,60.8L130.5,57.8L131.1,56.1L131.6,54.9L131.1,52.9L130.9,51.9L131.1,50.8L131.6,49.0L134.1,47.4L136.7,46.0Z" fill="none" stroke="#0a0a0a" stroke-width="1.05" stroke-linejoin="round"/>
<path d="M134.9,49.0L137.0,48.4L139.5,49.0L140.0,49.1L140.4,49.0L142.9,48.4L145.9,48.5L148.8,49.0L151.8,48.3L154.7,48.8L156.9,49.0L157.7,49.0L157.8,49.0L160.6,47.8L163.6,48.3L166.5,48.9L167.4,49.0L169.5,49.3L172.4,49.9L175.4,51.3L176.1,51.9L178.3,54.6L178.6,54.9L179.9,57.8L180.8,60.8L181.2,63.7L181.3,64.1L182.0,66.7L182.8,69.6L182.5,72.6L183.1,75.5L182.4,78.5L183.1,81.4L182.5,84.4L182.3,87.3L182.9,90.3L182.3,93.2L181.4,96.2L181.3,96.5L180.3,99.1L180.8,102.1L179.8,105.0L178.9,108.0L178.7,110.9L178.3,111.8L177.1,113.9L175.4,116.5L172.4,114.2L172.3,113.9L170.5,110.9L169.5,109.1L168.4,108.0L166.6,105.0L166.5,104.8L165.4,102.1L163.6,100.3L162.3,99.1L160.6,96.9L160.2,96.2L157.7,93.8L157.0,93.2L154.9,90.3L154.7,90.1L151.8,88.7L148.9,87.3L148.8,87.3L145.9,86.6L142.9,84.4L142.9,84.4L140.0,84.2L137.0,83.7L134.3,81.4L134.1,80.6L133.7,78.5L133.6,75.5L133.8,72.6L133.3,69.6L133.3,66.7L133.8,63.8L133.0,60.8L132.7,57.8L133.4,54.9L133.5,51.9L134.1,49.9L134.9,49.0Z" fill="none" stroke="#0a0a0a" stroke-width="1.05" stroke-linejoin="round"/>
<path d="M135.9,51.9L137.0,50.8L140.0,50.8L142.9,50.3L145.9,50.0L148.8,50.6L151.8,50.1L154.7,50.3L157.7,50.4L160.6,50.0L163.6,50.4L166.5,50.5L169.5,50.6L172.3,51.9L172.4,52.0L175.4,53.4L176.6,54.9L177.7,57.8L178.3,59.2L179.0,60.8L179.7,63.8L180.2,66.7L180.9,69.6L180.4,72.6L181.3,75.1L181.4,75.5L181.3,76.1L180.6,78.5L180.7,81.4L180.6,84.4L180.7,87.3L180.6,90.3L180.1,93.2L179.5,96.2L178.5,99.1L178.7,102.1L178.3,103.3L177.9,105.0L176.8,108.0L176.9,110.9L175.4,113.2L172.4,111.6L172.0,110.9L170.8,108.0L169.5,106.6L168.3,105.0L167.8,102.1L166.5,100.8L164.8,99.1L163.7,96.2L163.6,96.1L160.6,94.5L159.3,93.2L157.7,91.6L156.6,90.3L154.7,87.8L154.0,87.3L151.8,86.3L148.8,84.8L147.2,84.4L145.9,84.2L142.9,83.0L140.0,82.6L137.0,81.7L136.7,81.4L135.7,78.5L135.4,75.5L135.6,72.6L135.2,69.6L135.0,66.7L135.3,63.8L134.9,60.8L134.9,57.8L135.2,54.9L135.9,51.9Z" fill="none" stroke="#0a0a0a" stroke-width="1.05" stroke-linejoin="round"/>
<path d="M143.5,51.9L145.9,51.4L148.3,51.9L148.8,52.1L149.5,51.9L151.8,51.5L154.7,51.7L157.7,51.7L160.6,51.6L161.8,51.9L163.6,52.5L166.5,52.0L169.3,51.9L169.5,51.9L169.5,51.9L172.4,54.0L174.2,54.9L175.4,56.0L176.1,57.8L177.2,60.8L178.3,63.6L178.3,63.7L178.5,66.7L179.4,69.6L178.8,72.6L178.8,75.5L179.3,78.5L179.3,81.4L179.0,84.4L178.8,87.3L178.3,89.8L178.2,90.3L178.3,93.2L177.8,96.2L177.0,99.1L176.9,102.1L176.4,105.0L175.4,107.1L172.4,107.1L170.7,105.0L169.6,102.1L169.5,101.6L166.9,99.1L166.5,98.7L165.8,96.2L163.6,94.4L161.6,93.2L160.6,92.2L158.6,90.3L157.7,88.5L157.0,87.3L154.7,86.0L151.8,84.7L151.2,84.4L148.8,83.1L145.9,82.2L142.9,81.8L141.5,81.4L140.0,81.0L137.7,78.5L137.1,75.5L137.4,72.6L137.0,70.7L136.8,69.6L136.6,66.7L136.7,63.7L136.8,60.8L136.7,57.8L137.0,55.0L137.0,54.9L140.0,52.5L142.9,52.2L143.5,51.9Z" fill="none" stroke="#0a0a0a" stroke-width="1.55" stroke-linejoin="round"/>
<path d="M175.3,110.9L175.4,110.9L175.4,110.9L175.4,111.0L175.3,110.9Z" fill="none" stroke="#0a0a0a" stroke-width="1.55" stroke-linejoin="round"/>
<path d="M138.8,54.9L140.0,54.0L142.9,54.0L145.9,52.7L148.8,53.4L151.8,53.0L154.7,53.5L157.7,53.2L160.6,53.0L163.6,54.1L166.5,53.6L169.5,53.7L171.2,54.9L172.4,55.9L174.4,57.8L175.4,60.1L175.6,60.8L176.6,63.7L176.9,66.7L178.0,69.6L177.4,72.6L177.1,75.5L178.0,78.5L178.1,81.4L177.6,84.4L177.4,87.3L176.8,90.3L176.5,93.2L176.6,96.2L175.8,99.1L175.4,102.1L175.4,102.5L172.4,104.0L171.2,102.1L170.1,99.1L169.5,98.4L167.4,96.2L166.5,95.0L163.9,93.2L163.6,92.7L161.3,90.3L160.6,89.8L159.0,87.3L157.7,86.0L154.7,84.7L154.0,84.4L151.8,82.9L148.8,81.9L147.6,81.4L145.9,80.7L142.9,80.3L140.0,79.5L139.0,78.5L138.8,75.5L138.9,72.6L138.3,69.6L138.1,66.7L138.1,63.7L138.3,60.8L138.2,57.8L138.8,54.9Z" fill="none" stroke="#0a0a0a" stroke-width="1.55" stroke-linejoin="round"/>
<path d="M144.6,54.9L145.9,54.3L148.8,54.8L151.8,54.7L152.5,54.9L154.7,55.5L157.7,54.9L157.7,54.9L160.6,54.4L161.9,54.9L163.6,55.5L166.5,55.1L169.5,55.4L172.4,57.8L172.4,57.8L174.3,60.8L174.6,63.7L175.2,66.7L175.4,68.4L175.6,69.6L176.0,72.6L175.7,75.5L176.3,78.5L176.6,81.4L176.1,84.4L176.0,87.3L175.4,90.3L175.4,90.6L175.0,93.2L175.4,96.0L175.4,96.2L175.4,96.3L174.0,99.1L172.4,101.4L171.4,99.1L169.5,96.9L168.8,96.2L166.7,93.2L166.5,92.8L165.0,90.3L163.6,89.6L160.9,87.3L160.6,87.0L158.0,84.4L157.7,84.2L154.7,83.1L152.3,81.4L151.8,81.1L148.8,80.3L145.9,79.3L142.9,78.7L142.2,78.5L140.6,75.5L140.4,72.6L140.0,70.2L139.9,69.6L139.7,66.7L139.5,63.7L139.8,60.8L139.8,57.8L140.0,57.2L142.9,55.5L144.6,54.9Z" fill="none" stroke="#0a0a0a" stroke-width="1.55" stroke-linejoin="round"/>
<path d="M141.2,57.8L142.9,56.6L145.9,55.9L148.8,56.2L151.8,56.2L154.7,57.0L157.7,56.6L160.6,55.8L163.6,56.5L166.5,56.5L169.5,57.0L170.5,57.8L172.4,59.6L173.2,60.8L172.4,63.6L172.4,63.7L172.4,63.8L174.2,66.7L173.6,69.6L174.5,72.6L174.4,75.5L174.7,78.5L175.1,81.5L174.2,84.4L174.4,87.3L173.8,90.3L173.7,93.2L172.7,96.2L172.4,97.2L171.8,96.2L169.5,94.3L168.8,93.2L167.1,90.3L166.5,89.6L163.6,88.0L162.8,87.3L160.6,85.1L159.9,84.4L157.7,82.8L154.9,81.4L154.7,81.4L151.8,79.7L148.9,78.5L148.8,78.5L145.9,77.6L142.9,75.9L142.6,75.5L141.9,72.6L142.0,69.6L141.7,66.7L140.9,63.8L141.3,60.8L141.2,57.8Z" fill="none" stroke="#0a0a0a" stroke-width="1.55" stroke-linejoin="round"/>
<path d="M142.7,57.8L142.9,57.7L145.9,57.5L148.8,57.6L151.8,57.7L152.2,57.8L154.7,58.5L157.7,58.2L158.8,57.8L160.6,57.2L163.6,57.6L165.7,57.8L166.5,58.0L169.5,59.5L170.9,60.8L171.2,63.7L172.4,65.5L173.1,66.7L172.4,68.7L172.0,69.6L172.4,71.2L172.9,72.6L173.3,75.5L173.3,78.5L173.6,81.4L172.4,83.8L172.2,84.4L172.4,86.2L172.6,87.3L172.4,88.8L172.0,90.3L172.4,92.7L172.4,93.2L172.4,93.4L172.3,93.2L169.5,91.9L168.4,90.3L166.5,88.4L164.8,87.3L163.6,85.9L162.1,84.4L160.6,83.2L157.7,81.4L157.7,81.4L154.7,79.9L152.2,78.5L151.8,78.3L148.8,77.2L145.9,75.7L145.7,75.5L143.4,72.6L143.5,69.6L143.4,66.7L142.9,65.4L142.2,63.7L142.7,60.8L142.7,57.8Z" fill="none" stroke="#0a0a0a" stroke-width="1.55" stroke-linejoin="round"/>
<path d="M145.1,60.8L145.9,60.0L148.8,59.1L151.8,59.3L154.7,59.8L157.7,59.5L160.6,58.7L163.6,59.7L166.5,60.3L167.3,60.8L169.5,62.6L170.0,63.7L171.7,66.7L170.9,69.6L171.3,72.6L172.1,75.5L171.9,78.5L171.9,81.4L171.0,84.4L171.0,87.3L169.5,89.9L167.0,87.3L166.5,87.0L164.1,84.4L163.6,83.8L160.8,81.4L160.6,81.3L157.7,79.3L155.1,78.5L154.7,78.4L151.8,76.9L148.8,75.9L148.2,75.5L145.9,73.6L145.1,72.6L144.5,69.6L144.5,66.7L143.9,63.7L145.1,60.8Z" fill="none" stroke="#0a0a0a" stroke-width="1.55" stroke-linejoin="round"/>
<path d="M148.4,60.8L148.8,60.6L150.6,60.8L151.8,60.9L154.7,61.1L157.1,60.8L157.7,60.7L160.6,60.1L162.0,60.8L163.6,61.4L166.5,62.0L168.5,63.7L169.4,66.7L169.5,66.9L169.8,69.6L169.8,72.6L170.8,75.5L170.5,78.5L169.8,81.4L169.9,84.4L169.5,86.9L166.5,85.4L165.6,84.4L163.6,82.2L162.7,81.4L160.6,79.8L158.8,78.5L157.7,77.2L154.7,76.3L152.0,75.5L151.8,75.5L148.8,73.8L147.4,72.6L145.9,71.0L145.4,69.6L145.7,66.7L145.9,63.9L145.9,63.7L148.4,60.8Z" fill="none" stroke="#0a0a0a" stroke-width="1.55" stroke-linejoin="round"/>
<path d="M147.9,63.7L148.8,62.7L151.8,62.8L154.7,62.3L157.7,62.0L160.6,62.2L163.6,62.7L166.5,63.5L166.8,63.7L168.1,66.7L168.7,69.6L168.0,72.6L169.5,75.5L169.5,75.5L169.5,75.7L169.0,78.5L168.3,81.4L166.5,83.8L164.5,81.4L163.6,79.3L161.6,78.5L160.6,78.3L158.0,75.5L157.7,75.3L154.7,74.7L151.8,73.8L150.1,72.6L148.8,71.2L147.3,69.6L147.4,66.7L147.9,63.7Z" fill="none" stroke="#0a0a0a" stroke-width="1.55" stroke-linejoin="round"/>
<path d="M153.9,63.8L154.7,63.5L157.7,63.3L159.1,63.7L160.6,64.3L163.6,64.0L166.5,66.1L166.8,66.7L167.6,69.6L166.5,72.1L166.2,72.6L166.5,73.7L167.3,75.5L166.9,78.5L166.9,81.4L166.5,81.9L166.1,81.4L165.9,78.5L163.6,77.3L160.6,76.3L159.9,75.5L157.7,73.8L154.7,73.4L152.8,72.6L151.8,71.8L149.8,69.6L149.1,66.7L151.8,64.5L153.9,63.8Z" fill="none" stroke="#0a0a0a" stroke-width="1.55" stroke-linejoin="round"/>
<path d="M150.9,66.7L151.8,66.0L154.7,65.3L157.7,64.9L160.6,65.9L163.6,65.7L164.8,66.7L166.5,69.6L166.5,69.6L166.5,69.7L165.1,72.6L164.4,75.5L163.6,75.9L162.7,75.5L160.6,74.2L158.3,72.6L157.7,72.4L154.7,72.0L152.0,69.6L151.8,68.9L150.9,66.7Z" fill="none" stroke="#0a0a0a" stroke-width="1.55" stroke-linejoin="round"/>
<path d="M157.1,66.7L157.7,66.6L157.9,66.7L160.6,67.8L163.2,69.6L163.6,70.4L164.0,72.6L163.6,73.6L161.9,72.6L160.6,71.9L157.7,71.2L154.7,70.4L153.9,69.6L154.7,67.8L157.1,66.7Z" fill="none" stroke="#0a0a0a" stroke-width="1.55" stroke-linejoin="round"/>
<path d="M156.7,69.6L157.7,69.0L160.0,69.6L157.7,70.0L156.7,69.6Z" fill="none" stroke="#0a0a0a" stroke-width="1.55" stroke-linejoin="round"/>
<path d="M129.7,40.1L131.1,39.6L134.1,39.1L137.0,38.8L140.0,38.8L142.9,38.8L145.9,38.7L148.8,39.3L151.8,38.6L154.7,39.0L157.7,39.0L160.6,39.1L163.6,39.2L166.5,39.2L169.5,39.0L172.4,39.1L175.4,40.0L176.2,40.1L178.3,40.7L181.3,42.6L181.8,43.1L184.2,46.0L184.2,46.0L186.3,49.0L187.2,50.4L188.1,51.9L189.2,54.9L189.4,57.8L190.1,59.6L190.6,60.8L190.5,63.7L191.4,66.7L190.7,69.6L191.1,72.6L191.7,75.5L191.2,78.5L191.6,81.4L191.1,84.4L191.1,87.3L191.0,90.3L190.4,93.2L190.1,94.2L189.7,96.2L190.0,99.1L189.5,102.1L189.3,105.0L188.7,108.0L188.0,110.9L187.2,113.9L187.2,114.2L186.3,116.8L185.2,119.8L184.2,121.5L183.4,122.7L181.8,125.7L181.3,126.2L178.3,128.0L175.4,127.9L172.4,126.6L171.6,125.7L169.5,123.8L168.3,122.7L166.5,119.9L166.5,119.8L164.8,116.8L163.6,115.5L162.1,113.9L160.6,112.4L159.0,110.9L157.7,109.3L156.0,108.0L154.7,107.2L151.8,105.3L151.5,105.0L148.8,102.7L148.0,102.1L145.9,100.4L144.5,99.1L142.9,98.0L140.3,96.2L140.0,96.0L137.0,95.4L134.1,93.9L131.9,93.2L131.1,93.0L128.2,90.8L127.1,90.3L125.2,89.1L123.7,87.3L122.3,85.9L121.1,84.4L119.3,82.2L118.8,81.4L117.5,78.5L116.4,75.5L116.4,75.5L114.2,72.6L113.4,70.3L113.2,69.6L111.9,66.7L110.6,63.7L110.5,63.4L109.7,60.8L109.1,57.8L109.3,54.9L110.3,51.9L110.5,51.7L113.1,49.0L113.4,48.8L116.4,47.4L118.1,46.0L119.3,45.1L122.3,43.7L123.9,43.1L125.2,42.7L128.2,41.2L129.7,40.1Z" fill="none" stroke="#0a0a0a" stroke-width="1.05" stroke-linejoin="round"/>
<path d="M131.9,43.1L134.1,41.9L137.0,41.9L140.0,41.3L142.9,41.2L145.9,41.4L148.8,41.5L151.8,41.9L154.7,41.5L157.7,41.5L160.6,41.1L163.6,41.6L166.5,41.7L169.5,41.4L172.4,42.3L174.7,43.1L175.4,43.3L178.3,44.8L179.7,46.0L181.3,47.4L183.2,49.0L184.2,50.3L185.1,51.9L186.0,54.9L187.2,57.7L187.2,57.8L188.4,60.8L188.3,63.7L188.8,66.7L188.9,69.6L189.2,72.6L189.2,75.5L188.9,78.5L189.1,81.4L189.3,84.4L189.2,87.3L188.5,90.3L188.9,93.2L188.4,96.2L187.7,99.1L187.4,102.1L187.2,102.6L186.2,105.0L186.3,108.0L185.2,110.9L184.7,113.9L184.2,115.0L183.4,116.8L182.1,119.8L181.3,121.6L180.7,122.7L178.3,125.2L175.4,125.6L172.4,123.9L171.4,122.7L169.5,120.3L169.0,119.8L167.2,116.8L166.5,115.8L165.0,113.9L163.6,112.3L162.7,110.9L161.1,108.0L160.6,107.4L157.9,105.0L157.7,104.7L155.2,102.1L154.7,101.8L151.8,99.7L150.5,99.1L148.8,98.3L145.9,96.6L145.3,96.2L142.9,94.6L140.2,93.2L140.0,93.1L137.0,92.3L134.1,90.8L133.4,90.3L131.1,89.1L128.2,87.3L128.2,87.3L125.5,84.4L125.2,84.1L123.1,81.4L122.5,78.5L122.3,78.2L120.8,75.5L120.4,72.6L120.2,69.6L119.7,66.7L119.4,63.7L119.5,60.8L119.5,57.8L120.7,54.9L122.2,51.9L122.3,51.9L124.7,49.0L125.2,48.2L127.0,46.0L128.2,45.1L131.1,43.6L131.9,43.1Z" fill="none" stroke="#0a0a0a" stroke-width="1.05" stroke-linejoin="round"/>
<text transform="translate(1.20,278.00) scale(1.0,1)" font-family='"Liberation Sans", sans-serif' font-size="29" font-weight="bold" text-anchor="start" fill="#000" stroke="#000" stroke-width="0.0">B</text>
<path d="M59.5,465L59.5,283.0L61.0,288.0L62.3,295.0L64.6,308.0L67.7,319.6L70.0,330.4L71.5,341.0L73.0,353.5L74.6,365.8L76.2,376.0L77.0,393.5L80.0,412.0L83.0,427.3L86.2,439.6L89.2,446.5L94.6,450.4L99.2,458.0L103.8,462.7L111.5,464.7L247.0,464.7L247.0,465Z" fill="#b9b9b9" stroke="none"/>
<path d="M59.5,283.0L60.2,283.0L60.2,285.5L61.0,285.5L61.0,288.0L61.6,288.0L61.6,291.5L62.3,291.5L62.3,295.0L62.9,295.0L62.9,298.2L63.4,298.2L63.4,301.5L64.0,301.5L64.0,304.8L64.6,304.8L64.6,308.0L65.4,308.0L65.4,310.9L66.2,310.9L66.2,313.8L66.9,313.8L66.9,316.7L67.7,316.7L67.7,319.6L68.3,319.6L68.3,322.3L68.8,322.3L68.8,325.0L69.4,325.0L69.4,327.7L70.0,327.7L70.0,330.4L70.4,330.4L70.4,333.0L70.8,333.0L70.8,335.7L71.1,335.7L71.1,338.4L71.5,338.4L71.5,341.0L71.9,341.0L71.9,344.1L72.2,344.1L72.2,347.2L72.6,347.2L72.6,350.4L73.0,350.4L73.0,353.5L73.4,353.5L73.4,356.6L73.8,356.6L73.8,359.6L74.2,359.6L74.2,362.7L74.6,362.7L74.6,365.8L75.1,365.8L75.1,369.2L75.7,369.2L75.7,372.6L76.2,372.6L76.2,376.0L76.3,376.0L76.3,378.9L76.5,378.9L76.5,381.8L76.6,381.8L76.6,384.8L76.7,384.8L76.7,387.7L76.9,387.7L76.9,390.6L77.0,390.6L77.0,393.5L77.5,393.5L77.5,396.6L78.0,396.6L78.0,399.7L78.5,399.7L78.5,402.8L79.0,402.8L79.0,405.8L79.5,405.8L79.5,408.9L80.0,408.9L80.0,412.0L80.6,412.0L80.6,415.1L81.2,415.1L81.2,418.1L81.8,418.1L81.8,421.2L82.4,421.2L82.4,424.2L83.0,424.2L83.0,427.3L83.8,427.3L83.8,430.4L84.6,430.4L84.6,433.5L85.4,433.5L85.4,436.5L86.2,436.5L86.2,439.6L87.7,439.6L87.7,443.1L89.2,443.1L89.2,446.5L91.0,446.5L91.0,447.8L92.8,447.8L92.8,449.1L94.6,449.1L94.6,450.4L96.1,450.4L96.1,452.9L97.7,452.9L97.7,455.5L99.2,455.5L99.2,458.0L100.7,458.0L100.7,459.6L102.3,459.6L102.3,461.1L103.8,461.1L103.8,462.7L105.3,462.7L105.3,463.1L106.9,463.1L106.9,463.5L108.4,463.5L108.4,463.9L110.0,463.9L110.0,464.3L111.5,464.3L111.5,464.7L113.1,464.7L113.1,464.7L114.7,464.7L114.7,464.7L116.3,464.7L116.3,464.7L117.9,464.7L117.9,464.7L119.5,464.7L119.5,464.7L121.1,464.7L121.1,464.7L122.7,464.7L122.7,464.7L124.3,464.7L124.3,464.7L125.8,464.7L125.8,464.7L127.4,464.7L127.4,464.7L129.0,464.7L129.0,464.7L130.6,464.7L130.6,464.7L132.2,464.7L132.2,464.7L133.8,464.7L133.8,464.7L135.4,464.7L135.4,464.7L137.0,464.7L137.0,464.7L138.6,464.7L138.6,464.7L140.2,464.7L140.2,464.7L141.8,464.7L141.8,464.7L143.4,464.7L143.4,464.7L145.0,464.7L145.0,464.7L146.6,464.7L146.6,464.7L148.2,464.7L148.2,464.7L149.8,464.7L149.8,464.7L151.4,464.7L151.4,464.7L152.9,464.7L152.9,464.7L154.5,464.7L154.5,464.7L156.1,464.7L156.1,464.7L157.7,464.7L157.7,464.7L159.3,464.7L159.3,464.7L160.9,464.7L160.9,464.7L162.5,464.7L162.5,464.7L164.1,464.7L164.1,464.7L165.7,464.7L165.7,464.7L167.3,464.7L167.3,464.7L168.9,464.7L168.9,464.7L170.5,464.7L170.5,464.7L172.1,464.7L172.1,464.7L173.7,464.7L173.7,464.7L175.3,464.7L175.3,464.7L176.9,464.7L176.9,464.7L178.5,464.7L178.5,464.7L180.0,464.7L180.0,464.7L181.6,464.7L181.6,464.7L183.2,464.7L183.2,464.7L184.8,464.7L184.8,464.7L186.4,464.7L186.4,464.7L188.0,464.7L188.0,464.7L189.6,464.7L189.6,464.7L191.2,464.7L191.2,464.7L192.8,464.7L192.8,464.7L194.4,464.7L194.4,464.7L196.0,464.7L196.0,464.7L197.6,464.7L197.6,464.7L199.2,464.7L199.2,464.7L200.8,464.7L200.8,464.7L202.4,464.7L202.4,464.7L204.0,464.7L204.0,464.7L205.6,464.7L205.6,464.7L207.1,464.7L207.1,464.7L208.7,464.7L208.7,464.7L210.3,464.7L210.3,464.7L211.9,464.7L211.9,464.7L213.5,464.7L213.5,464.7L215.1,464.7L215.1,464.7L216.7,464.7L216.7,464.7L218.3,464.7L218.3,464.7L219.9,464.7L219.9,464.7L221.5,464.7L221.5,464.7L223.1,464.7L223.1,464.7L224.7,464.7L224.7,464.7L226.3,464.7L226.3,464.7L227.9,464.7L227.9,464.7L229.5,464.7L229.5,464.7L231.1,464.7L231.1,464.7L232.7,464.7L232.7,464.7L234.2,464.7L234.2,464.7L235.8,464.7L235.8,464.7L237.4,464.7L237.4,464.7L239.0,464.7L239.0,464.7L240.6,464.7L240.6,464.7L242.2,464.7L242.2,464.7L243.8,464.7L243.8,464.7L245.4,464.7L245.4,464.7L247.0,464.7L247.0,464.7" fill="none" stroke="#0a0a0a" stroke-width="2.5" stroke-linejoin="miter"/>
<path d="M61.5,342.0L63.8,335.0L65.4,328.0L67.5,316.0L70.0,303.0L72.3,319.6L76.2,323.5L78.5,338.0L78.5,347.0L80.0,355.0L81.5,363.5L81.5,372.0L82.3,378.0L86.0,384.0L85.4,395.0L87.0,403.5L88.5,412.7L90.0,419.6L90.8,428.8L91.5,436.5L94.6,442.7L98.0,452.0L102.0,459.0" fill="none" stroke="#0a0a0a" stroke-width="2.8" stroke-dasharray="2.8 3.2"/>
<line x1="55.25" y1="279.50" x2="248.10" y2="279.50" stroke="#0a0a0a" stroke-width="1.6" />
<line x1="247.50" y1="278.90" x2="247.50" y2="465.00" stroke="#111" stroke-width="1.4" />
<line x1="57.50" y1="278.70" x2="57.50" y2="467.10" stroke="#050505" stroke-width="4.5" />
<line x1="52.25" y1="281.70" x2="57.50" y2="281.70" stroke="#050505" stroke-width="1.6" />
<line x1="55.25" y1="465.70" x2="248.10" y2="465.70" stroke="#050505" stroke-width="4.2" />
<line x1="57.30" y1="465.70" x2="57.30" y2="471.30" stroke="#050505" stroke-width="2.4" />
<line x1="88.55" y1="465.70" x2="88.55" y2="470.30" stroke="#050505" stroke-width="2.0" />
<line x1="70.76" y1="465.70" x2="70.76" y2="468.30" stroke="#050505" stroke-width="1.2" />
<line x1="78.63" y1="465.70" x2="78.63" y2="468.30" stroke="#050505" stroke-width="1.2" />
<line x1="84.21" y1="465.70" x2="84.21" y2="468.30" stroke="#050505" stroke-width="1.2" />
<line x1="92.08" y1="465.70" x2="92.08" y2="468.30" stroke="#050505" stroke-width="1.2" />
<line x1="95.08" y1="465.70" x2="95.08" y2="468.30" stroke="#050505" stroke-width="1.2" />
<line x1="97.67" y1="465.70" x2="97.67" y2="468.30" stroke="#050505" stroke-width="1.2" />
<line x1="99.95" y1="465.70" x2="99.95" y2="468.30" stroke="#050505" stroke-width="1.2" />
<line x1="102.00" y1="465.70" x2="102.00" y2="471.30" stroke="#050505" stroke-width="2.4" />
<line x1="133.94" y1="465.70" x2="133.94" y2="470.30" stroke="#050505" stroke-width="2.0" />
<line x1="115.76" y1="465.70" x2="115.76" y2="468.30" stroke="#050505" stroke-width="1.2" />
<line x1="123.80" y1="465.70" x2="123.80" y2="468.30" stroke="#050505" stroke-width="1.2" />
<line x1="129.51" y1="465.70" x2="129.51" y2="468.30" stroke="#050505" stroke-width="1.2" />
<line x1="137.56" y1="465.70" x2="137.56" y2="468.30" stroke="#050505" stroke-width="1.2" />
<line x1="140.62" y1="465.70" x2="140.62" y2="468.30" stroke="#050505" stroke-width="1.2" />
<line x1="143.27" y1="465.70" x2="143.27" y2="468.30" stroke="#050505" stroke-width="1.2" />
<line x1="145.61" y1="465.70" x2="145.61" y2="468.30" stroke="#050505" stroke-width="1.2" />
<line x1="147.70" y1="465.70" x2="147.70" y2="471.30" stroke="#050505" stroke-width="2.4" />
<line x1="179.92" y1="465.70" x2="179.92" y2="470.30" stroke="#050505" stroke-width="2.0" />
<line x1="161.58" y1="465.70" x2="161.58" y2="468.30" stroke="#050505" stroke-width="1.2" />
<line x1="169.70" y1="465.70" x2="169.70" y2="468.30" stroke="#050505" stroke-width="1.2" />
<line x1="175.45" y1="465.70" x2="175.45" y2="468.30" stroke="#050505" stroke-width="1.2" />
<line x1="183.57" y1="465.70" x2="183.57" y2="468.30" stroke="#050505" stroke-width="1.2" />
<line x1="186.66" y1="465.70" x2="186.66" y2="468.30" stroke="#050505" stroke-width="1.2" />
<line x1="189.33" y1="465.70" x2="189.33" y2="468.30" stroke="#050505" stroke-width="1.2" />
<line x1="191.69" y1="465.70" x2="191.69" y2="468.30" stroke="#050505" stroke-width="1.2" />
<line x1="193.80" y1="465.70" x2="193.80" y2="471.30" stroke="#050505" stroke-width="2.4" />
<line x1="226.58" y1="465.70" x2="226.58" y2="470.30" stroke="#050505" stroke-width="2.0" />
<line x1="207.92" y1="465.70" x2="207.92" y2="468.30" stroke="#050505" stroke-width="1.2" />
<line x1="216.18" y1="465.70" x2="216.18" y2="468.30" stroke="#050505" stroke-width="1.2" />
<line x1="222.04" y1="465.70" x2="222.04" y2="468.30" stroke="#050505" stroke-width="1.2" />
<line x1="230.30" y1="465.70" x2="230.30" y2="468.30" stroke="#050505" stroke-width="1.2" />
<line x1="233.44" y1="465.70" x2="233.44" y2="468.30" stroke="#050505" stroke-width="1.2" />
<line x1="236.15" y1="465.70" x2="236.15" y2="468.30" stroke="#050505" stroke-width="1.2" />
<line x1="238.55" y1="465.70" x2="238.55" y2="468.30" stroke="#050505" stroke-width="1.2" />
<line x1="240.70" y1="465.70" x2="240.70" y2="471.30" stroke="#050505" stroke-width="2.4" />
<line x1="51.25" y1="320.50" x2="57.50" y2="320.50" stroke="#111" stroke-width="1.6" />
<line x1="51.25" y1="356.30" x2="57.50" y2="356.30" stroke="#111" stroke-width="1.6" />
<line x1="51.25" y1="392.80" x2="57.50" y2="392.80" stroke="#111" stroke-width="1.6" />
<line x1="51.25" y1="429.00" x2="57.50" y2="429.00" stroke="#111" stroke-width="1.6" />
<line x1="51.25" y1="465.00" x2="57.50" y2="465.00" stroke="#111" stroke-width="1.6" />
<text transform="translate(50.60,326.10) scale(0.92,1)" font-family='"Liberation Sans", sans-serif' font-size="16.5" font-weight="normal" text-anchor="end" fill="#111" stroke="#111" stroke-width="0.28">800</text>
<text transform="translate(50.60,361.90) scale(0.92,1)" font-family='"Liberation Sans", sans-serif' font-size="16.5" font-weight="normal" text-anchor="end" fill="#111" stroke="#111" stroke-width="0.28">600</text>
<text transform="translate(50.60,398.40) scale(0.92,1)" font-family='"Liberation Sans", sans-serif' font-size="16.5" font-weight="normal" text-anchor="end" fill="#111" stroke="#111" stroke-width="0.28">400</text>
<text transform="translate(50.60,434.60) scale(0.92,1)" font-family='"Liberation Sans", sans-serif' font-size="16.5" font-weight="normal" text-anchor="end" fill="#111" stroke="#111" stroke-width="0.28">200</text>
<text transform="translate(50.60,470.60) scale(0.92,1)" font-family='"Liberation Sans", sans-serif' font-size="16.5" font-weight="normal" text-anchor="end" fill="#111" stroke="#111" stroke-width="0.28">0</text>
<text transform="translate(48.70,488.00) scale(0.95,1)" font-family='"Liberation Sans", sans-serif' font-size="15.6" fill="#111" stroke="#111" stroke-width="0.25">10</text>
<text transform="translate(66.00,481.60) scale(0.9,1)" font-family='"Liberation Sans", sans-serif' font-size="10" fill="#111" stroke="#111" stroke-width="0.2">0</text>
<text transform="translate(89.60,488.00) scale(0.95,1)" font-family='"Liberation Sans", sans-serif' font-size="15.6" fill="#111" stroke="#111" stroke-width="0.25">10</text>
<text transform="translate(106.90,481.60) scale(0.9,1)" font-family='"Liberation Sans", sans-serif' font-size="10" fill="#111" stroke="#111" stroke-width="0.2">1</text>
<text transform="translate(135.60,488.00) scale(0.95,1)" font-family='"Liberation Sans", sans-serif' font-size="15.6" fill="#111" stroke="#111" stroke-width="0.25">10</text>
<text transform="translate(152.90,481.60) scale(0.9,1)" font-family='"Liberation Sans", sans-serif' font-size="10" fill="#111" stroke="#111" stroke-width="0.2">2</text>
<text transform="translate(182.30,488.00) scale(0.95,1)" font-family='"Liberation Sans", sans-serif' font-size="15.6" fill="#111" stroke="#111" stroke-width="0.25">10</text>
<text transform="translate(199.60,481.60) scale(0.9,1)" font-family='"Liberation Sans", sans-serif' font-size="10" fill="#111" stroke="#111" stroke-width="0.2">3</text>
<text transform="translate(226.00,488.00) scale(0.95,1)" font-family='"Liberation Sans", sans-serif' font-size="15.6" fill="#111" stroke="#111" stroke-width="0.25">10</text>
<text transform="translate(243.30,481.60) scale(0.9,1)" font-family='"Liberation Sans", sans-serif' font-size="10" fill="#111" stroke="#111" stroke-width="0.2">4</text>
<text transform="translate(150.20,275.40) rotate(0) scale(0.97,1)" font-family='"Liberation Serif", serif' font-size="23" font-style="normal" text-anchor="middle" fill="#111" stroke="#111" stroke-width="0.32">CD34+</text>
<text transform="translate(145.00,505.60) scale(1.08,1)" font-family='"Liberation Sans", sans-serif' font-size="17.5" font-weight="normal" text-anchor="middle" fill="#111" stroke="#111" stroke-width="0.28">α3</text>
<text transform="translate(19.10,373.00) rotate(-90) scale(0.955,1)" font-family='"Liberation Serif", serif' font-size="23" font-style="normal" text-anchor="middle" fill="#111" stroke="#111" stroke-width="0.32">Cell number</text>
<path d="M326.8,465.3L326.8,283.0L327.3,305.0L328.5,306.0L329.5,324.0L330.5,314.0L331.5,334.0L332.5,321.0L333.5,340.0L334.5,326.0L335.5,343.0L336.5,329.0L337.5,347.0L338.5,336.0L339.5,350.0L340.5,345.0L341.5,352.0L341.5,375.0L343.0,390.4L343.0,402.7L345.0,404.0L347.0,396.5L348.5,413.5L351.5,422.7L354.0,424.0L356.0,418.0L359.0,429.0L363.8,435.0L368.5,444.0L371.5,453.5L376.0,461.0L382.3,464.5L507.0,464.8L507.0,465.3Z" fill="#b9b9b9" stroke="none"/>
<path d="M326.8,283.0L326.9,283.0L326.9,286.1L326.9,286.1L326.9,289.3L327.0,289.3L327.0,292.4L327.1,292.4L327.1,295.6L327.2,295.6L327.2,298.7L327.2,298.7L327.2,301.9L327.3,301.9L327.3,305.0L328.5,305.0L328.5,306.0L328.7,306.0L328.7,309.0L328.8,309.0L328.8,312.0L329.0,312.0L329.0,315.0L329.2,315.0L329.2,318.0L329.3,318.0L329.3,321.0L329.5,321.0L329.5,324.0L329.8,324.0L329.8,320.7L330.2,320.7L330.2,317.3L330.5,317.3L330.5,314.0L330.6,314.0L330.6,316.9L330.8,316.9L330.8,319.7L330.9,319.7L330.9,322.6L331.1,322.6L331.1,325.4L331.2,325.4L331.2,328.3L331.4,328.3L331.4,331.1L331.5,331.1L331.5,334.0L331.8,334.0L331.8,330.8L332.0,330.8L332.0,327.5L332.2,327.5L332.2,324.2L332.5,324.2L332.5,321.0L332.7,321.0L332.7,324.2L332.8,324.2L332.8,327.3L333.0,327.3L333.0,330.5L333.2,330.5L333.2,333.7L333.3,333.7L333.3,336.8L333.5,336.8L333.5,340.0L333.7,340.0L333.7,337.2L333.9,337.2L333.9,334.4L334.1,334.4L334.1,331.6L334.3,331.6L334.3,328.8L334.5,328.8L334.5,326.0L334.7,326.0L334.7,328.8L334.8,328.8L334.8,331.7L335.0,331.7L335.0,334.5L335.2,334.5L335.2,337.3L335.3,337.3L335.3,340.2L335.5,340.2L335.5,343.0L335.7,343.0L335.7,340.2L335.9,340.2L335.9,337.4L336.1,337.4L336.1,334.6L336.3,334.6L336.3,331.8L336.5,331.8L336.5,329.0L336.7,329.0L336.7,332.0L336.8,332.0L336.8,335.0L337.0,335.0L337.0,338.0L337.2,338.0L337.2,341.0L337.3,341.0L337.3,344.0L337.5,344.0L337.5,347.0L337.8,347.0L337.8,344.2L338.0,344.2L338.0,341.5L338.2,341.5L338.2,338.8L338.5,338.8L338.5,336.0L338.7,336.0L338.7,338.8L338.9,338.8L338.9,341.6L339.1,341.6L339.1,344.4L339.3,344.4L339.3,347.2L339.5,347.2L339.5,350.0L340.0,350.0L340.0,347.5L340.5,347.5L340.5,345.0L341.0,345.0L341.0,348.5L341.5,348.5L341.5,352.0L341.5,352.0L341.5,354.9L341.5,354.9L341.5,357.8L341.5,357.8L341.5,360.6L341.5,360.6L341.5,363.5L341.5,363.5L341.5,366.4L341.5,366.4L341.5,369.2L341.5,369.2L341.5,372.1L341.5,372.1L341.5,375.0L341.8,375.0L341.8,378.1L342.1,378.1L342.1,381.2L342.4,381.2L342.4,384.2L342.7,384.2L342.7,387.3L343.0,387.3L343.0,390.4L343.0,390.4L343.0,393.5L343.0,393.5L343.0,396.5L343.0,396.5L343.0,399.6L343.0,399.6L343.0,402.7L345.0,402.7L345.0,404.0L346.0,404.0L346.0,400.2L347.0,400.2L347.0,396.5L347.2,396.5L347.2,399.3L347.5,399.3L347.5,402.2L347.8,402.2L347.8,405.0L348.0,405.0L348.0,407.8L348.2,407.8L348.2,410.7L348.5,410.7L348.5,413.5L349.5,413.5L349.5,416.6L350.5,416.6L350.5,419.6L351.5,419.6L351.5,422.7L352.8,422.7L352.8,423.4L354.0,423.4L354.0,424.0L355.0,424.0L355.0,421.0L356.0,421.0L356.0,418.0L356.8,418.0L356.8,420.8L357.5,420.8L357.5,423.5L358.2,423.5L358.2,426.2L359.0,426.2L359.0,429.0L360.6,429.0L360.6,431.0L362.2,431.0L362.2,433.0L363.8,433.0L363.8,435.0L365.4,435.0L365.4,438.0L366.9,438.0L366.9,441.0L368.5,441.0L368.5,444.0L369.5,444.0L369.5,447.2L370.5,447.2L370.5,450.3L371.5,450.3L371.5,453.5L373.0,453.5L373.0,456.0L374.5,456.0L374.5,458.5L376.0,458.5L376.0,461.0L377.6,461.0L377.6,461.9L379.1,461.9L379.1,462.8L380.7,462.8L380.7,463.6L382.3,463.6L382.3,464.5L383.9,464.5L383.9,464.5L385.5,464.5L385.5,464.5L387.1,464.5L387.1,464.5L388.7,464.5L388.7,464.5L390.3,464.5L390.3,464.5L391.9,464.5L391.9,464.5L393.5,464.5L393.5,464.5L395.1,464.5L395.1,464.5L396.7,464.5L396.7,464.5L398.3,464.5L398.3,464.5L399.9,464.5L399.9,464.5L401.5,464.5L401.5,464.5L403.1,464.5L403.1,464.6L404.7,464.6L404.7,464.6L406.3,464.6L406.3,464.6L407.9,464.6L407.9,464.6L409.5,464.6L409.5,464.6L411.1,464.6L411.1,464.6L412.7,464.6L412.7,464.6L414.3,464.6L414.3,464.6L415.9,464.6L415.9,464.6L417.5,464.6L417.5,464.6L419.1,464.6L419.1,464.6L420.7,464.6L420.7,464.6L422.3,464.6L422.3,464.6L423.9,464.6L423.9,464.6L425.5,464.6L425.5,464.6L427.1,464.6L427.1,464.6L428.7,464.6L428.7,464.6L430.3,464.6L430.3,464.6L431.9,464.6L431.9,464.6L433.5,464.6L433.5,464.6L435.1,464.6L435.1,464.6L436.7,464.6L436.7,464.6L438.3,464.6L438.3,464.6L439.9,464.6L439.9,464.6L441.5,464.6L441.5,464.6L443.1,464.6L443.1,464.6L444.6,464.6L444.6,464.6L446.2,464.6L446.2,464.7L447.8,464.7L447.8,464.7L449.4,464.7L449.4,464.7L451.0,464.7L451.0,464.7L452.6,464.7L452.6,464.7L454.2,464.7L454.2,464.7L455.8,464.7L455.8,464.7L457.4,464.7L457.4,464.7L459.0,464.7L459.0,464.7L460.6,464.7L460.6,464.7L462.2,464.7L462.2,464.7L463.8,464.7L463.8,464.7L465.4,464.7L465.4,464.7L467.0,464.7L467.0,464.7L468.6,464.7L468.6,464.7L470.2,464.7L470.2,464.7L471.8,464.7L471.8,464.7L473.4,464.7L473.4,464.7L475.0,464.7L475.0,464.7L476.6,464.7L476.6,464.7L478.2,464.7L478.2,464.7L479.8,464.7L479.8,464.7L481.4,464.7L481.4,464.7L483.0,464.7L483.0,464.7L484.6,464.7L484.6,464.7L486.2,464.7L486.2,464.8L487.8,464.8L487.8,464.8L489.4,464.8L489.4,464.8L491.0,464.8L491.0,464.8L492.6,464.8L492.6,464.8L494.2,464.8L494.2,464.8L495.8,464.8L495.8,464.8L497.4,464.8L497.4,464.8L499.0,464.8L499.0,464.8L500.6,464.8L500.6,464.8L502.2,464.8L502.2,464.8L503.8,464.8L503.8,464.8L505.4,464.8L505.4,464.8L507.0,464.8L507.0,464.8" fill="none" stroke="#0a0a0a" stroke-width="2.5" stroke-linejoin="miter"/>
<path d="M328.0,345.0L330.0,336.0L332.0,325.0L334.0,312.0L335.4,303.5L337.0,311.0L338.5,319.0L342.3,322.7L342.5,335.0L344.6,338.0L344.6,346.5L346.0,355.0L347.0,362.7L347.0,371.0L348.5,378.0L350.8,390.4L353.0,404.0L355.4,416.5L356.0,429.0L359.0,439.6L362.3,449.0L363.8,455.0L368.5,459.6L373.0,463.0" fill="none" stroke="#0a0a0a" stroke-width="2.8" stroke-dasharray="2.8 3.2"/>
<line x1="321.45" y1="280.60" x2="507.90" y2="280.60" stroke="#0a0a0a" stroke-width="1.6" />
<line x1="507.30" y1="280.00" x2="507.30" y2="465.30" stroke="#111" stroke-width="1.4" />
<line x1="323.70" y1="279.80" x2="323.70" y2="467.40" stroke="#050505" stroke-width="4.5" />
<line x1="318.45" y1="282.80" x2="323.70" y2="282.80" stroke="#050505" stroke-width="1.6" />
<line x1="321.45" y1="466.00" x2="507.90" y2="466.00" stroke="#050505" stroke-width="4.2" />
<line x1="324.20" y1="466.00" x2="324.20" y2="471.60" stroke="#050505" stroke-width="2.4" />
<line x1="354.82" y1="466.00" x2="354.82" y2="470.60" stroke="#050505" stroke-width="2.0" />
<line x1="337.39" y1="466.00" x2="337.39" y2="468.60" stroke="#050505" stroke-width="1.2" />
<line x1="345.10" y1="466.00" x2="345.10" y2="468.60" stroke="#050505" stroke-width="1.2" />
<line x1="350.57" y1="466.00" x2="350.57" y2="468.60" stroke="#050505" stroke-width="1.2" />
<line x1="358.28" y1="466.00" x2="358.28" y2="468.60" stroke="#050505" stroke-width="1.2" />
<line x1="361.22" y1="466.00" x2="361.22" y2="468.60" stroke="#050505" stroke-width="1.2" />
<line x1="363.76" y1="466.00" x2="363.76" y2="468.60" stroke="#050505" stroke-width="1.2" />
<line x1="366.00" y1="466.00" x2="366.00" y2="468.60" stroke="#050505" stroke-width="1.2" />
<line x1="368.00" y1="466.00" x2="368.00" y2="471.60" stroke="#050505" stroke-width="2.4" />
<line x1="399.25" y1="466.00" x2="399.25" y2="470.60" stroke="#050505" stroke-width="2.0" />
<line x1="381.46" y1="466.00" x2="381.46" y2="468.60" stroke="#050505" stroke-width="1.2" />
<line x1="389.33" y1="466.00" x2="389.33" y2="468.60" stroke="#050505" stroke-width="1.2" />
<line x1="394.91" y1="466.00" x2="394.91" y2="468.60" stroke="#050505" stroke-width="1.2" />
<line x1="402.78" y1="466.00" x2="402.78" y2="468.60" stroke="#050505" stroke-width="1.2" />
<line x1="405.78" y1="466.00" x2="405.78" y2="468.60" stroke="#050505" stroke-width="1.2" />
<line x1="408.37" y1="466.00" x2="408.37" y2="468.60" stroke="#050505" stroke-width="1.2" />
<line x1="410.65" y1="466.00" x2="410.65" y2="468.60" stroke="#050505" stroke-width="1.2" />
<line x1="412.70" y1="466.00" x2="412.70" y2="471.60" stroke="#050505" stroke-width="2.4" />
<line x1="445.76" y1="466.00" x2="445.76" y2="470.60" stroke="#050505" stroke-width="2.0" />
<line x1="426.94" y1="466.00" x2="426.94" y2="468.60" stroke="#050505" stroke-width="1.2" />
<line x1="435.27" y1="466.00" x2="435.27" y2="468.60" stroke="#050505" stroke-width="1.2" />
<line x1="441.18" y1="466.00" x2="441.18" y2="468.60" stroke="#050505" stroke-width="1.2" />
<line x1="449.51" y1="466.00" x2="449.51" y2="468.60" stroke="#050505" stroke-width="1.2" />
<line x1="452.67" y1="466.00" x2="452.67" y2="468.60" stroke="#050505" stroke-width="1.2" />
<line x1="455.42" y1="466.00" x2="455.42" y2="468.60" stroke="#050505" stroke-width="1.2" />
<line x1="457.84" y1="466.00" x2="457.84" y2="468.60" stroke="#050505" stroke-width="1.2" />
<line x1="460.00" y1="466.00" x2="460.00" y2="471.60" stroke="#050505" stroke-width="2.4" />
<line x1="492.15" y1="466.00" x2="492.15" y2="470.60" stroke="#050505" stroke-width="2.0" />
<line x1="473.85" y1="466.00" x2="473.85" y2="468.60" stroke="#050505" stroke-width="1.2" />
<line x1="481.95" y1="466.00" x2="481.95" y2="468.60" stroke="#050505" stroke-width="1.2" />
<line x1="487.69" y1="466.00" x2="487.69" y2="468.60" stroke="#050505" stroke-width="1.2" />
<line x1="495.79" y1="466.00" x2="495.79" y2="468.60" stroke="#050505" stroke-width="1.2" />
<line x1="498.87" y1="466.00" x2="498.87" y2="468.60" stroke="#050505" stroke-width="1.2" />
<line x1="501.54" y1="466.00" x2="501.54" y2="468.60" stroke="#050505" stroke-width="1.2" />
<line x1="503.90" y1="466.00" x2="503.90" y2="468.60" stroke="#050505" stroke-width="1.2" />
<line x1="506.00" y1="466.00" x2="506.00" y2="471.60" stroke="#050505" stroke-width="2.4" />
<line x1="317.45" y1="319.60" x2="323.70" y2="319.60" stroke="#111" stroke-width="1.6" />
<line x1="317.45" y1="355.00" x2="323.70" y2="355.00" stroke="#111" stroke-width="1.6" />
<line x1="317.45" y1="392.00" x2="323.70" y2="392.00" stroke="#111" stroke-width="1.6" />
<line x1="317.45" y1="428.00" x2="323.70" y2="428.00" stroke="#111" stroke-width="1.6" />
<line x1="317.45" y1="464.50" x2="323.70" y2="464.50" stroke="#111" stroke-width="1.6" />
<text transform="translate(317.60,325.20) scale(0.92,1)" font-family='"Liberation Sans", sans-serif' font-size="16.5" font-weight="normal" text-anchor="end" fill="#111" stroke="#111" stroke-width="0.28">20</text>
<text transform="translate(317.60,360.60) scale(0.92,1)" font-family='"Liberation Sans", sans-serif' font-size="16.5" font-weight="normal" text-anchor="end" fill="#111" stroke="#111" stroke-width="0.28">15</text>
<text transform="translate(317.60,397.60) scale(0.92,1)" font-family='"Liberation Sans", sans-serif' font-size="16.5" font-weight="normal" text-anchor="end" fill="#111" stroke="#111" stroke-width="0.28">10</text>
<text transform="translate(317.60,433.60) scale(0.92,1)" font-family='"Liberation Sans", sans-serif' font-size="16.5" font-weight="normal" text-anchor="end" fill="#111" stroke="#111" stroke-width="0.28">5</text>
<text transform="translate(317.60,470.10) scale(0.92,1)" font-family='"Liberation Sans", sans-serif' font-size="16.5" font-weight="normal" text-anchor="end" fill="#111" stroke="#111" stroke-width="0.28">0</text>
<text transform="translate(318.50,488.50) scale(0.95,1)" font-family='"Liberation Sans", sans-serif' font-size="15.6" fill="#111" stroke="#111" stroke-width="0.25">10</text>
<text transform="translate(335.80,482.10) scale(0.9,1)" font-family='"Liberation Sans", sans-serif' font-size="10" fill="#111" stroke="#111" stroke-width="0.2">0</text>
<text transform="translate(359.50,488.50) scale(0.95,1)" font-family='"Liberation Sans", sans-serif' font-size="15.6" fill="#111" stroke="#111" stroke-width="0.25">10</text>
<text transform="translate(376.80,482.10) scale(0.9,1)" font-family='"Liberation Sans", sans-serif' font-size="10" fill="#111" stroke="#111" stroke-width="0.2">1</text>
<text transform="translate(404.60,488.50) scale(0.95,1)" font-family='"Liberation Sans", sans-serif' font-size="15.6" fill="#111" stroke="#111" stroke-width="0.25">10</text>
<text transform="translate(421.90,482.10) scale(0.9,1)" font-family='"Liberation Sans", sans-serif' font-size="10" fill="#111" stroke="#111" stroke-width="0.2">2</text>
<text transform="translate(452.00,488.50) scale(0.95,1)" font-family='"Liberation Sans", sans-serif' font-size="15.6" fill="#111" stroke="#111" stroke-width="0.25">10</text>
<text transform="translate(469.30,482.10) scale(0.9,1)" font-family='"Liberation Sans", sans-serif' font-size="10" fill="#111" stroke="#111" stroke-width="0.2">3</text>
<text transform="translate(493.50,488.50) scale(0.95,1)" font-family='"Liberation Sans", sans-serif' font-size="15.6" fill="#111" stroke="#111" stroke-width="0.25">10</text>
<text transform="translate(510.80,482.10) scale(0.9,1)" font-family='"Liberation Sans", sans-serif' font-size="10" fill="#111" stroke="#111" stroke-width="0.2">4</text>
<text transform="translate(417.30,273.80) rotate(0) scale(0.97,1)" font-family='"Liberation Serif", serif' font-size="23" font-style="normal" text-anchor="middle" fill="#111" stroke="#111" stroke-width="0.32">CD34+CD38-</text>
<text transform="translate(415.50,506.00) scale(1.08,1)" font-family='"Liberation Sans", sans-serif' font-size="17.5" font-weight="normal" text-anchor="middle" fill="#111" stroke="#111" stroke-width="0.28">α3</text>
<text transform="translate(290.30,374.00) rotate(-90) scale(0.955,1)" font-family='"Liberation Serif", serif' font-size="23" font-style="normal" text-anchor="middle" fill="#111" stroke="#111" stroke-width="0.32">Cell number</text>
<path d="M60.5,723.3L60.5,720.0L60.6,676.0L61.5,713.0L66.0,710.8L73.0,708.5L80.0,706.0L87.0,704.0L91.5,698.0L96.0,687.7L100.8,673.8L104.2,660.0L107.7,646.0L111.0,634.6L113.5,625.0L117.0,608.8L120.4,592.7L123.8,578.8L126.2,565.0L129.0,556.0L132.0,551.0L134.2,555.8L136.5,569.6L138.8,585.8L141.2,602.0L142.3,615.8L143.5,632.0L144.6,643.8L147.0,660.0L149.2,676.0L151.5,692.3L153.8,703.8L157.3,713.0L163.0,718.8L170.0,720.3L200.0,721.0L207.7,720.5L211.0,718.5L214.4,717.3L219.0,719.0L223.0,720.5L228.0,721.3L247.5,721.5L247.5,723.3Z" fill="#b9b9b9" stroke="none"/>
<path d="M60.5,720.0L60.5,720.0L60.5,717.1L60.5,717.1L60.5,714.1L60.5,714.1L60.5,711.2L60.5,711.2L60.5,708.3L60.5,708.3L60.5,705.3L60.5,705.3L60.5,702.4L60.5,702.4L60.5,699.5L60.6,699.5L60.6,696.5L60.6,696.5L60.6,693.6L60.6,693.6L60.6,690.7L60.6,690.7L60.6,687.7L60.6,687.7L60.6,684.8L60.6,684.8L60.6,681.9L60.6,681.9L60.6,678.9L60.6,678.9L60.6,676.0L60.7,676.0L60.7,679.1L60.8,679.1L60.8,682.2L60.8,682.2L60.8,685.2L60.9,685.2L60.9,688.3L61.0,688.3L61.0,691.4L61.0,691.4L61.0,694.5L61.1,694.5L61.1,697.6L61.2,697.6L61.2,700.7L61.3,700.7L61.3,703.8L61.4,703.8L61.4,706.8L61.4,706.8L61.4,709.9L61.5,709.9L61.5,713.0L63.0,713.0L63.0,712.3L64.5,712.3L64.5,711.5L66.0,711.5L66.0,710.8L67.8,710.8L67.8,710.2L69.5,710.2L69.5,709.6L71.2,709.6L71.2,709.1L73.0,709.1L73.0,708.5L74.8,708.5L74.8,707.9L76.5,707.9L76.5,707.2L78.2,707.2L78.2,706.6L80.0,706.6L80.0,706.0L81.8,706.0L81.8,705.5L83.5,705.5L83.5,705.0L85.2,705.0L85.2,704.5L87.0,704.5L87.0,704.0L88.5,704.0L88.5,702.0L90.0,702.0L90.0,700.0L91.5,700.0L91.5,698.0L93.0,698.0L93.0,694.6L94.5,694.6L94.5,691.1L96.0,691.1L96.0,687.7L97.0,687.7L97.0,684.9L97.9,684.9L97.9,682.1L98.9,682.1L98.9,679.4L99.8,679.4L99.8,676.6L100.8,676.6L100.8,673.8L101.5,673.8L101.5,671.0L102.2,671.0L102.2,668.3L102.8,668.3L102.8,665.5L103.5,665.5L103.5,662.8L104.2,662.8L104.2,660.0L104.9,660.0L104.9,657.2L105.6,657.2L105.6,654.4L106.3,654.4L106.3,651.6L107.0,651.6L107.0,648.8L107.7,648.8L107.7,646.0L108.5,646.0L108.5,643.1L109.3,643.1L109.3,640.3L110.2,640.3L110.2,637.5L111.0,637.5L111.0,634.6L111.8,634.6L111.8,631.4L112.7,631.4L112.7,628.2L113.5,628.2L113.5,625.0L114.2,625.0L114.2,621.8L114.9,621.8L114.9,618.5L115.6,618.5L115.6,615.3L116.3,615.3L116.3,612.0L117.0,612.0L117.0,608.8L117.7,608.8L117.7,605.6L118.4,605.6L118.4,602.4L119.0,602.4L119.0,599.1L119.7,599.1L119.7,595.9L120.4,595.9L120.4,592.7L121.1,592.7L121.1,589.9L121.8,589.9L121.8,587.1L122.4,587.1L122.4,584.4L123.1,584.4L123.1,581.6L123.8,581.6L123.8,578.8L124.3,578.8L124.3,576.0L124.8,576.0L124.8,573.3L125.2,573.3L125.2,570.5L125.7,570.5L125.7,567.8L126.2,567.8L126.2,565.0L127.1,565.0L127.1,562.0L128.1,562.0L128.1,559.0L129.0,559.0L129.0,556.0L130.5,556.0L130.5,553.5L132.0,553.5L132.0,551.0L133.1,551.0L133.1,553.4L134.2,553.4L134.2,555.8L134.7,555.8L134.7,558.6L135.1,558.6L135.1,561.3L135.6,561.3L135.6,564.1L136.0,564.1L136.0,566.8L136.5,566.8L136.5,569.6L137.0,569.6L137.0,572.8L137.4,572.8L137.4,576.1L137.9,576.1L137.9,579.3L138.3,579.3L138.3,582.6L138.8,582.6L138.8,585.8L139.3,585.8L139.3,589.0L139.8,589.0L139.8,592.3L140.2,592.3L140.2,595.5L140.7,595.5L140.7,598.8L141.2,598.8L141.2,602.0L141.4,602.0L141.4,604.8L141.6,604.8L141.6,607.5L141.9,607.5L141.9,610.3L142.1,610.3L142.1,613.0L142.3,613.0L142.3,615.8L142.5,615.8L142.5,619.0L142.8,619.0L142.8,622.3L143.0,622.3L143.0,625.5L143.3,625.5L143.3,628.8L143.5,628.8L143.5,632.0L143.8,632.0L143.8,635.0L144.1,635.0L144.1,637.9L144.3,637.9L144.3,640.8L144.6,640.8L144.6,643.8L145.1,643.8L145.1,647.0L145.6,647.0L145.6,650.3L146.0,650.3L146.0,653.5L146.5,653.5L146.5,656.8L147.0,656.8L147.0,660.0L147.4,660.0L147.4,663.2L147.9,663.2L147.9,666.4L148.3,666.4L148.3,669.6L148.8,669.6L148.8,672.8L149.2,672.8L149.2,676.0L149.7,676.0L149.7,679.3L150.1,679.3L150.1,682.5L150.6,682.5L150.6,685.8L151.0,685.8L151.0,689.0L151.5,689.0L151.5,692.3L152.1,692.3L152.1,695.2L152.7,695.2L152.7,698.0L153.2,698.0L153.2,700.9L153.8,700.9L153.8,703.8L155.0,703.8L155.0,706.9L156.1,706.9L156.1,709.9L157.3,709.9L157.3,713.0L158.7,713.0L158.7,714.5L160.2,714.5L160.2,715.9L161.6,715.9L161.6,717.3L163.0,717.3L163.0,718.8L164.8,718.8L164.8,719.2L166.5,719.2L166.5,719.5L168.2,719.5L168.2,719.9L170.0,719.9L170.0,720.3L171.6,720.3L171.6,720.3L173.2,720.3L173.2,720.4L174.7,720.4L174.7,720.4L176.3,720.4L176.3,720.4L177.9,720.4L177.9,720.5L179.5,720.5L179.5,720.5L181.1,720.5L181.1,720.6L182.6,720.6L182.6,720.6L184.2,720.6L184.2,720.6L185.8,720.6L185.8,720.7L187.4,720.7L187.4,720.7L188.9,720.7L188.9,720.7L190.5,720.7L190.5,720.8L192.1,720.8L192.1,720.8L193.7,720.8L193.7,720.9L195.3,720.9L195.3,720.9L196.8,720.9L196.8,720.9L198.4,720.9L198.4,721.0L200.0,721.0L200.0,721.0L201.5,721.0L201.5,720.9L203.1,720.9L203.1,720.8L204.6,720.8L204.6,720.7L206.2,720.7L206.2,720.6L207.7,720.6L207.7,720.5L209.3,720.5L209.3,719.5L211.0,719.5L211.0,718.5L212.7,718.5L212.7,717.9L214.4,717.9L214.4,717.3L215.9,717.3L215.9,717.9L217.5,717.9L217.5,718.4L219.0,718.4L219.0,719.0L221.0,719.0L221.0,719.8L223.0,719.8L223.0,720.5L224.7,720.5L224.7,720.8L226.3,720.8L226.3,721.0L228.0,721.0L228.0,721.3L229.6,721.3L229.6,721.3L231.2,721.3L231.2,721.3L232.9,721.3L232.9,721.3L234.5,721.3L234.5,721.4L236.1,721.4L236.1,721.4L237.8,721.4L237.8,721.4L239.4,721.4L239.4,721.4L241.0,721.4L241.0,721.4L242.6,721.4L242.6,721.5L244.2,721.5L244.2,721.5L245.9,721.5L245.9,721.5L247.5,721.5L247.5,721.5" fill="none" stroke="#0a0a0a" stroke-width="2.5" stroke-linejoin="miter"/>
<path d="M60.4,617.0L65.0,609.0L67.3,597.3L69.6,589.0L72.0,582.3L75.4,573.0L78.8,567.3L80.3,560.0L81.2,552.3L82.3,560.4L83.5,575.4L85.8,584.6L87.0,597.3L89.2,609.0L91.0,622.7L91.5,632.0L93.8,648.5L96.0,664.6L98.5,683.0L100.8,697.0L104.2,708.5L107.7,716.5L112.3,721.0" fill="none" stroke="#0a0a0a" stroke-width="2.8" stroke-dasharray="2.8 3.2"/>
<line x1="56.40" y1="539.00" x2="248.60" y2="539.00" stroke="#0a0a0a" stroke-width="1.6" />
<line x1="248.00" y1="538.40" x2="248.00" y2="723.30" stroke="#111" stroke-width="1.4" />
<line x1="58.40" y1="538.20" x2="58.40" y2="725.40" stroke="#050505" stroke-width="4.0" />
<line x1="53.40" y1="541.20" x2="58.40" y2="541.20" stroke="#050505" stroke-width="1.6" />
<line x1="56.40" y1="724.00" x2="248.60" y2="724.00" stroke="#050505" stroke-width="4.2" />
<line x1="58.70" y1="724.00" x2="58.70" y2="729.60" stroke="#050505" stroke-width="2.4" />
<line x1="90.92" y1="724.00" x2="90.92" y2="728.60" stroke="#050505" stroke-width="2.0" />
<line x1="72.58" y1="724.00" x2="72.58" y2="726.60" stroke="#050505" stroke-width="1.2" />
<line x1="80.70" y1="724.00" x2="80.70" y2="726.60" stroke="#050505" stroke-width="1.2" />
<line x1="86.45" y1="724.00" x2="86.45" y2="726.60" stroke="#050505" stroke-width="1.2" />
<line x1="94.57" y1="724.00" x2="94.57" y2="726.60" stroke="#050505" stroke-width="1.2" />
<line x1="97.66" y1="724.00" x2="97.66" y2="726.60" stroke="#050505" stroke-width="1.2" />
<line x1="100.33" y1="724.00" x2="100.33" y2="726.60" stroke="#050505" stroke-width="1.2" />
<line x1="102.69" y1="724.00" x2="102.69" y2="726.60" stroke="#050505" stroke-width="1.2" />
<line x1="104.80" y1="724.00" x2="104.80" y2="729.60" stroke="#050505" stroke-width="2.4" />
<line x1="137.79" y1="724.00" x2="137.79" y2="728.60" stroke="#050505" stroke-width="2.0" />
<line x1="119.01" y1="724.00" x2="119.01" y2="726.60" stroke="#050505" stroke-width="1.2" />
<line x1="127.32" y1="724.00" x2="127.32" y2="726.60" stroke="#050505" stroke-width="1.2" />
<line x1="133.22" y1="724.00" x2="133.22" y2="726.60" stroke="#050505" stroke-width="1.2" />
<line x1="141.53" y1="724.00" x2="141.53" y2="726.60" stroke="#050505" stroke-width="1.2" />
<line x1="144.69" y1="724.00" x2="144.69" y2="726.60" stroke="#050505" stroke-width="1.2" />
<line x1="147.43" y1="724.00" x2="147.43" y2="726.60" stroke="#050505" stroke-width="1.2" />
<line x1="149.84" y1="724.00" x2="149.84" y2="726.60" stroke="#050505" stroke-width="1.2" />
<line x1="152.00" y1="724.00" x2="152.00" y2="729.60" stroke="#050505" stroke-width="2.4" />
<line x1="184.85" y1="724.00" x2="184.85" y2="728.60" stroke="#050505" stroke-width="2.0" />
<line x1="166.15" y1="724.00" x2="166.15" y2="726.60" stroke="#050505" stroke-width="1.2" />
<line x1="174.42" y1="724.00" x2="174.42" y2="726.60" stroke="#050505" stroke-width="1.2" />
<line x1="180.30" y1="724.00" x2="180.30" y2="726.60" stroke="#050505" stroke-width="1.2" />
<line x1="188.57" y1="724.00" x2="188.57" y2="726.60" stroke="#050505" stroke-width="1.2" />
<line x1="191.72" y1="724.00" x2="191.72" y2="726.60" stroke="#050505" stroke-width="1.2" />
<line x1="194.45" y1="724.00" x2="194.45" y2="726.60" stroke="#050505" stroke-width="1.2" />
<line x1="196.85" y1="724.00" x2="196.85" y2="726.60" stroke="#050505" stroke-width="1.2" />
<line x1="199.00" y1="724.00" x2="199.00" y2="729.60" stroke="#050505" stroke-width="2.4" />
<line x1="231.57" y1="724.00" x2="231.57" y2="728.60" stroke="#050505" stroke-width="2.0" />
<line x1="213.03" y1="724.00" x2="213.03" y2="726.60" stroke="#050505" stroke-width="1.2" />
<line x1="221.23" y1="724.00" x2="221.23" y2="726.60" stroke="#050505" stroke-width="1.2" />
<line x1="227.06" y1="724.00" x2="227.06" y2="726.60" stroke="#050505" stroke-width="1.2" />
<line x1="235.26" y1="724.00" x2="235.26" y2="726.60" stroke="#050505" stroke-width="1.2" />
<line x1="238.38" y1="724.00" x2="238.38" y2="726.60" stroke="#050505" stroke-width="1.2" />
<line x1="241.08" y1="724.00" x2="241.08" y2="726.60" stroke="#050505" stroke-width="1.2" />
<line x1="243.47" y1="724.00" x2="243.47" y2="726.60" stroke="#050505" stroke-width="1.2" />
<line x1="245.60" y1="724.00" x2="245.60" y2="729.60" stroke="#050505" stroke-width="2.4" />
<line x1="52.40" y1="577.50" x2="58.40" y2="577.50" stroke="#111" stroke-width="1.6" />
<line x1="52.40" y1="614.00" x2="58.40" y2="614.00" stroke="#111" stroke-width="1.6" />
<line x1="52.40" y1="650.50" x2="58.40" y2="650.50" stroke="#111" stroke-width="1.6" />
<line x1="52.40" y1="687.00" x2="58.40" y2="687.00" stroke="#111" stroke-width="1.6" />
<line x1="52.40" y1="723.00" x2="58.40" y2="723.00" stroke="#111" stroke-width="1.6" />
<text transform="translate(52.20,583.10) scale(0.92,1)" font-family='"Liberation Sans", sans-serif' font-size="16.5" font-weight="normal" text-anchor="end" fill="#111" stroke="#111" stroke-width="0.28">1200</text>
<text transform="translate(52.20,619.60) scale(0.92,1)" font-family='"Liberation Sans", sans-serif' font-size="16.5" font-weight="normal" text-anchor="end" fill="#111" stroke="#111" stroke-width="0.28">900</text>
<text transform="translate(52.20,656.10) scale(0.92,1)" font-family='"Liberation Sans", sans-serif' font-size="16.5" font-weight="normal" text-anchor="end" fill="#111" stroke="#111" stroke-width="0.28">600</text>
<text transform="translate(52.20,692.60) scale(0.92,1)" font-family='"Liberation Sans", sans-serif' font-size="16.5" font-weight="normal" text-anchor="end" fill="#111" stroke="#111" stroke-width="0.28">300</text>
<text transform="translate(52.20,728.60) scale(0.92,1)" font-family='"Liberation Sans", sans-serif' font-size="16.5" font-weight="normal" text-anchor="end" fill="#111" stroke="#111" stroke-width="0.28">0</text>
<text transform="translate(52.00,745.00) scale(0.95,1)" font-family='"Liberation Sans", sans-serif' font-size="15.6" fill="#111" stroke="#111" stroke-width="0.25">10</text>
<text transform="translate(69.30,738.60) scale(0.9,1)" font-family='"Liberation Sans", sans-serif' font-size="10" fill="#111" stroke="#111" stroke-width="0.2">0</text>
<text transform="translate(90.20,745.00) scale(0.95,1)" font-family='"Liberation Sans", sans-serif' font-size="15.6" fill="#111" stroke="#111" stroke-width="0.25">10</text>
<text transform="translate(107.50,738.60) scale(0.9,1)" font-family='"Liberation Sans", sans-serif' font-size="10" fill="#111" stroke="#111" stroke-width="0.2">1</text>
<text transform="translate(136.80,745.00) scale(0.95,1)" font-family='"Liberation Sans", sans-serif' font-size="15.6" fill="#111" stroke="#111" stroke-width="0.25">10</text>
<text transform="translate(154.10,738.60) scale(0.9,1)" font-family='"Liberation Sans", sans-serif' font-size="10" fill="#111" stroke="#111" stroke-width="0.2">2</text>
<text transform="translate(182.90,745.00) scale(0.95,1)" font-family='"Liberation Sans", sans-serif' font-size="15.6" fill="#111" stroke="#111" stroke-width="0.25">10</text>
<text transform="translate(200.20,738.60) scale(0.9,1)" font-family='"Liberation Sans", sans-serif' font-size="10" fill="#111" stroke="#111" stroke-width="0.2">3</text>
<text transform="translate(226.00,745.00) scale(0.95,1)" font-family='"Liberation Sans", sans-serif' font-size="15.6" fill="#111" stroke="#111" stroke-width="0.25">10</text>
<text transform="translate(243.30,738.60) scale(0.9,1)" font-family='"Liberation Sans", sans-serif' font-size="10" fill="#111" stroke="#111" stroke-width="0.2">4</text>
<text transform="translate(153.50,534.00) rotate(0) scale(0.97,1)" font-family='"Liberation Serif", serif' font-size="23" font-style="normal" text-anchor="middle" fill="#111" stroke="#111" stroke-width="0.32">CD34+</text>
<text transform="translate(143.00,764.00) scale(1.08,1)" font-family='"Liberation Sans", sans-serif' font-size="17.5" font-weight="normal" text-anchor="middle" fill="#111" stroke="#111" stroke-width="0.28">α6</text>
<text transform="translate(18.50,639.30) rotate(-90) scale(0.955,1)" font-family='"Liberation Serif", serif' font-size="23" font-style="normal" text-anchor="middle" fill="#111" stroke="#111" stroke-width="0.32">Cell number</text>
<path d="M329.6,725.6L329.6,723.0L329.8,690.0L330.5,715.4L332.3,722.3L340.4,722.3L345.0,717.7L349.6,720.0L355.4,721.0L358.8,713.0L361.0,708.5L364.6,712.0L367.0,706.0L370.4,699.0L372.7,697.0L375.0,685.4L377.3,664.6L380.8,660.0L383.0,648.5L384.2,634.6L386.5,622.7L388.8,618.0L392.3,613.5L393.5,602.0L395.8,597.3L397.5,590.0L399.2,582.3L400.8,597.3L402.2,613.5L403.8,628.0L406.0,648.5L408.5,664.6L409.6,683.0L412.0,699.0L415.4,710.8L420.0,722.3L440.0,723.5L463.5,723.5L467.0,720.0L470.4,718.0L477.3,720.4L480.0,722.0L483.0,723.5L512.5,724.0L512.5,725.6Z" fill="#b9b9b9" stroke="none"/>
<path d="M329.6,723.0L329.6,723.0L329.6,720.0L329.6,720.0L329.6,717.0L329.7,717.0L329.7,714.0L329.7,714.0L329.7,711.0L329.7,711.0L329.7,708.0L329.7,708.0L329.7,705.0L329.7,705.0L329.7,702.0L329.7,702.0L329.7,699.0L329.8,699.0L329.8,696.0L329.8,696.0L329.8,693.0L329.8,693.0L329.8,690.0L329.9,690.0L329.9,693.2L330.0,693.2L330.0,696.4L330.1,696.4L330.1,699.5L330.1,699.5L330.1,702.7L330.2,702.7L330.2,705.9L330.3,705.9L330.3,709.0L330.4,709.0L330.4,712.2L330.5,712.2L330.5,715.4L331.4,715.4L331.4,718.8L332.3,718.8L332.3,722.3L333.9,722.3L333.9,722.3L335.5,722.3L335.5,722.3L337.2,722.3L337.2,722.3L338.8,722.3L338.8,722.3L340.4,722.3L340.4,722.3L341.9,722.3L341.9,720.8L343.5,720.8L343.5,719.2L345.0,719.2L345.0,717.7L346.5,717.7L346.5,718.5L348.1,718.5L348.1,719.2L349.6,719.2L349.6,720.0L351.1,720.0L351.1,720.2L352.5,720.2L352.5,720.5L353.9,720.5L353.9,720.8L355.4,720.8L355.4,721.0L356.5,721.0L356.5,718.3L357.7,718.3L357.7,715.7L358.8,715.7L358.8,713.0L359.9,713.0L359.9,710.8L361.0,710.8L361.0,708.5L362.8,708.5L362.8,710.2L364.6,710.2L364.6,712.0L365.8,712.0L365.8,709.0L367.0,709.0L367.0,706.0L368.7,706.0L368.7,702.5L370.4,702.5L370.4,699.0L372.7,699.0L372.7,697.0L373.3,697.0L373.3,694.1L373.9,694.1L373.9,691.2L374.4,691.2L374.4,688.3L375.0,688.3L375.0,685.4L375.3,685.4L375.3,682.4L375.7,682.4L375.7,679.5L376.0,679.5L376.0,676.5L376.3,676.5L376.3,673.5L376.6,673.5L376.6,670.5L377.0,670.5L377.0,667.6L377.3,667.6L377.3,664.6L379.1,664.6L379.1,662.3L380.8,662.3L380.8,660.0L381.4,660.0L381.4,657.1L381.9,657.1L381.9,654.2L382.4,654.2L382.4,651.4L383.0,651.4L383.0,648.5L383.2,648.5L383.2,645.7L383.5,645.7L383.5,642.9L383.7,642.9L383.7,640.2L384.0,640.2L384.0,637.4L384.2,637.4L384.2,634.6L384.8,634.6L384.8,631.6L385.4,631.6L385.4,628.7L385.9,628.7L385.9,625.7L386.5,625.7L386.5,622.7L387.6,622.7L387.6,620.4L388.8,620.4L388.8,618.0L390.6,618.0L390.6,615.8L392.3,615.8L392.3,613.5L392.6,613.5L392.6,610.6L392.9,610.6L392.9,607.8L393.2,607.8L393.2,604.9L393.5,604.9L393.5,602.0L394.6,602.0L394.6,599.6L395.8,599.6L395.8,597.3L396.6,597.3L396.6,593.6L397.5,593.6L397.5,590.0L398.1,590.0L398.1,587.4L398.6,587.4L398.6,584.9L399.2,584.9L399.2,582.3L399.5,582.3L399.5,585.3L399.8,585.3L399.8,588.3L400.2,588.3L400.2,591.3L400.5,591.3L400.5,594.3L400.8,594.3L400.8,597.3L401.1,597.3L401.1,600.5L401.4,600.5L401.4,603.8L401.6,603.8L401.6,607.0L401.9,607.0L401.9,610.3L402.2,610.3L402.2,613.5L402.5,613.5L402.5,616.4L402.8,616.4L402.8,619.3L403.2,619.3L403.2,622.2L403.5,622.2L403.5,625.1L403.8,625.1L403.8,628.0L404.1,628.0L404.1,630.9L404.4,630.9L404.4,633.9L404.7,633.9L404.7,636.8L405.1,636.8L405.1,639.7L405.4,639.7L405.4,642.6L405.7,642.6L405.7,645.6L406.0,645.6L406.0,648.5L406.5,648.5L406.5,651.7L407.0,651.7L407.0,654.9L407.5,654.9L407.5,658.2L408.0,658.2L408.0,661.4L408.5,661.4L408.5,664.6L408.7,664.6L408.7,667.7L408.9,667.7L408.9,670.7L409.1,670.7L409.1,673.8L409.2,673.8L409.2,676.9L409.4,676.9L409.4,679.9L409.6,679.9L409.6,683.0L410.1,683.0L410.1,686.2L410.6,686.2L410.6,689.4L411.0,689.4L411.0,692.6L411.5,692.6L411.5,695.8L412.0,695.8L412.0,699.0L412.9,699.0L412.9,702.0L413.7,702.0L413.7,704.9L414.5,704.9L414.5,707.8L415.4,707.8L415.4,710.8L416.5,710.8L416.5,713.7L417.7,713.7L417.7,716.5L418.9,716.5L418.9,719.4L420.0,719.4L420.0,722.3L421.7,722.3L421.7,722.4L423.3,722.4L423.3,722.5L425.0,722.5L425.0,722.6L426.7,722.6L426.7,722.7L428.3,722.7L428.3,722.8L430.0,722.8L430.0,722.9L431.7,722.9L431.7,723.0L433.3,723.0L433.3,723.1L435.0,723.1L435.0,723.2L436.7,723.2L436.7,723.3L438.3,723.3L438.3,723.4L440.0,723.4L440.0,723.5L441.6,723.5L441.6,723.5L443.1,723.5L443.1,723.5L444.7,723.5L444.7,723.5L446.3,723.5L446.3,723.5L447.8,723.5L447.8,723.5L449.4,723.5L449.4,723.5L451.0,723.5L451.0,723.5L452.5,723.5L452.5,723.5L454.1,723.5L454.1,723.5L455.7,723.5L455.7,723.5L457.2,723.5L457.2,723.5L458.8,723.5L458.8,723.5L460.4,723.5L460.4,723.5L461.9,723.5L461.9,723.5L463.5,723.5L463.5,723.5L465.2,723.5L465.2,721.8L467.0,721.8L467.0,720.0L468.7,720.0L468.7,719.0L470.4,719.0L470.4,718.0L472.1,718.0L472.1,718.6L473.9,718.6L473.9,719.2L475.6,719.2L475.6,719.8L477.3,719.8L477.3,720.4L478.6,720.4L478.6,721.2L480.0,721.2L480.0,722.0L481.5,722.0L481.5,722.8L483.0,722.8L483.0,723.5L484.6,723.5L484.6,723.5L486.3,723.5L486.3,723.6L487.9,723.6L487.9,723.6L489.6,723.6L489.6,723.6L491.2,723.6L491.2,723.6L492.8,723.6L492.8,723.7L494.5,723.7L494.5,723.7L496.1,723.7L496.1,723.7L497.8,723.7L497.8,723.8L499.4,723.8L499.4,723.8L501.0,723.8L501.0,723.8L502.7,723.8L502.7,723.8L504.3,723.8L504.3,723.9L505.9,723.9L505.9,723.9L507.6,723.9L507.6,723.9L509.2,723.9L509.2,723.9L510.9,723.9L510.9,724.0L512.5,724.0L512.5,724.0" fill="none" stroke="#0a0a0a" stroke-width="2.5" stroke-linejoin="miter"/>
<path d="M330.0,619.0L333.5,611.0L337.0,599.6L339.2,590.4L342.7,581.0L345.0,572.0L349.6,569.6L350.0,555.8L352.0,565.0L353.0,578.8L355.4,585.8L356.5,597.3L357.7,606.5L360.0,618.0L361.0,627.3L361.2,640.0L362.3,646.0L363.5,660.0L365.8,671.5L368.0,685.4L370.0,697.0L372.7,708.5L375.5,717.7L379.6,722.3" fill="none" stroke="#0a0a0a" stroke-width="2.8" stroke-dasharray="2.8 3.2"/>
<line x1="325.70" y1="541.50" x2="513.60" y2="541.50" stroke="#0a0a0a" stroke-width="1.6" />
<line x1="513.00" y1="540.90" x2="513.00" y2="725.60" stroke="#111" stroke-width="1.4" />
<line x1="327.70" y1="540.70" x2="327.70" y2="727.70" stroke="#050505" stroke-width="4.0" />
<line x1="322.70" y1="543.70" x2="327.70" y2="543.70" stroke="#050505" stroke-width="1.6" />
<line x1="325.70" y1="726.30" x2="513.60" y2="726.30" stroke="#050505" stroke-width="4.2" />
<line x1="328.80" y1="726.30" x2="328.80" y2="731.90" stroke="#050505" stroke-width="2.4" />
<line x1="360.25" y1="726.30" x2="360.25" y2="730.90" stroke="#050505" stroke-width="2.0" />
<line x1="342.35" y1="726.30" x2="342.35" y2="728.90" stroke="#050505" stroke-width="1.2" />
<line x1="350.27" y1="726.30" x2="350.27" y2="728.90" stroke="#050505" stroke-width="1.2" />
<line x1="355.89" y1="726.30" x2="355.89" y2="728.90" stroke="#050505" stroke-width="1.2" />
<line x1="363.82" y1="726.30" x2="363.82" y2="728.90" stroke="#050505" stroke-width="1.2" />
<line x1="366.83" y1="726.30" x2="366.83" y2="728.90" stroke="#050505" stroke-width="1.2" />
<line x1="369.44" y1="726.30" x2="369.44" y2="728.90" stroke="#050505" stroke-width="1.2" />
<line x1="371.74" y1="726.30" x2="371.74" y2="728.90" stroke="#050505" stroke-width="1.2" />
<line x1="373.80" y1="726.30" x2="373.80" y2="731.90" stroke="#050505" stroke-width="2.4" />
<line x1="405.39" y1="726.30" x2="405.39" y2="730.90" stroke="#050505" stroke-width="2.0" />
<line x1="387.41" y1="726.30" x2="387.41" y2="728.90" stroke="#050505" stroke-width="1.2" />
<line x1="395.37" y1="726.30" x2="395.37" y2="728.90" stroke="#050505" stroke-width="1.2" />
<line x1="401.01" y1="726.30" x2="401.01" y2="728.90" stroke="#050505" stroke-width="1.2" />
<line x1="408.97" y1="726.30" x2="408.97" y2="728.90" stroke="#050505" stroke-width="1.2" />
<line x1="412.00" y1="726.30" x2="412.00" y2="728.90" stroke="#050505" stroke-width="1.2" />
<line x1="414.62" y1="726.30" x2="414.62" y2="728.90" stroke="#050505" stroke-width="1.2" />
<line x1="416.93" y1="726.30" x2="416.93" y2="728.90" stroke="#050505" stroke-width="1.2" />
<line x1="419.00" y1="726.30" x2="419.00" y2="731.90" stroke="#050505" stroke-width="2.4" />
<line x1="450.87" y1="726.30" x2="450.87" y2="730.90" stroke="#050505" stroke-width="2.0" />
<line x1="432.73" y1="726.30" x2="432.73" y2="728.90" stroke="#050505" stroke-width="1.2" />
<line x1="440.76" y1="726.30" x2="440.76" y2="728.90" stroke="#050505" stroke-width="1.2" />
<line x1="446.45" y1="726.30" x2="446.45" y2="728.90" stroke="#050505" stroke-width="1.2" />
<line x1="454.48" y1="726.30" x2="454.48" y2="728.90" stroke="#050505" stroke-width="1.2" />
<line x1="457.54" y1="726.30" x2="457.54" y2="728.90" stroke="#050505" stroke-width="1.2" />
<line x1="460.18" y1="726.30" x2="460.18" y2="728.90" stroke="#050505" stroke-width="1.2" />
<line x1="462.51" y1="726.30" x2="462.51" y2="728.90" stroke="#050505" stroke-width="1.2" />
<line x1="464.60" y1="726.30" x2="464.60" y2="731.90" stroke="#050505" stroke-width="2.4" />
<line x1="497.17" y1="726.30" x2="497.17" y2="730.90" stroke="#050505" stroke-width="2.0" />
<line x1="478.63" y1="726.30" x2="478.63" y2="728.90" stroke="#050505" stroke-width="1.2" />
<line x1="486.83" y1="726.30" x2="486.83" y2="728.90" stroke="#050505" stroke-width="1.2" />
<line x1="492.66" y1="726.30" x2="492.66" y2="728.90" stroke="#050505" stroke-width="1.2" />
<line x1="500.86" y1="726.30" x2="500.86" y2="728.90" stroke="#050505" stroke-width="1.2" />
<line x1="503.98" y1="726.30" x2="503.98" y2="728.90" stroke="#050505" stroke-width="1.2" />
<line x1="506.68" y1="726.30" x2="506.68" y2="728.90" stroke="#050505" stroke-width="1.2" />
<line x1="509.07" y1="726.30" x2="509.07" y2="728.90" stroke="#050505" stroke-width="1.2" />
<line x1="511.20" y1="726.30" x2="511.20" y2="731.90" stroke="#050505" stroke-width="2.4" />
<line x1="321.70" y1="578.80" x2="327.70" y2="578.80" stroke="#111" stroke-width="1.6" />
<line x1="321.70" y1="615.80" x2="327.70" y2="615.80" stroke="#111" stroke-width="1.6" />
<line x1="321.70" y1="653.00" x2="327.70" y2="653.00" stroke="#111" stroke-width="1.6" />
<line x1="321.70" y1="687.70" x2="327.70" y2="687.70" stroke="#111" stroke-width="1.6" />
<line x1="321.70" y1="724.80" x2="327.70" y2="724.80" stroke="#111" stroke-width="1.6" />
<text transform="translate(322.80,584.40) scale(0.92,1)" font-family='"Liberation Sans", sans-serif' font-size="16.5" font-weight="normal" text-anchor="end" fill="#111" stroke="#111" stroke-width="0.28">40</text>
<text transform="translate(322.80,621.40) scale(0.92,1)" font-family='"Liberation Sans", sans-serif' font-size="16.5" font-weight="normal" text-anchor="end" fill="#111" stroke="#111" stroke-width="0.28">30</text>
<text transform="translate(322.80,658.60) scale(0.92,1)" font-family='"Liberation Sans", sans-serif' font-size="16.5" font-weight="normal" text-anchor="end" fill="#111" stroke="#111" stroke-width="0.28">20</text>
<text transform="translate(322.80,693.30) scale(0.92,1)" font-family='"Liberation Sans", sans-serif' font-size="16.5" font-weight="normal" text-anchor="end" fill="#111" stroke="#111" stroke-width="0.28">10</text>
<text transform="translate(322.80,730.40) scale(0.92,1)" font-family='"Liberation Sans", sans-serif' font-size="16.5" font-weight="normal" text-anchor="end" fill="#111" stroke="#111" stroke-width="0.28">0</text>
<text transform="translate(322.00,749.00) scale(0.95,1)" font-family='"Liberation Sans", sans-serif' font-size="15.6" fill="#111" stroke="#111" stroke-width="0.25">10</text>
<text transform="translate(339.30,742.60) scale(0.9,1)" font-family='"Liberation Sans", sans-serif' font-size="10" fill="#111" stroke="#111" stroke-width="0.2">0</text>
<text transform="translate(363.50,749.00) scale(0.95,1)" font-family='"Liberation Sans", sans-serif' font-size="15.6" fill="#111" stroke="#111" stroke-width="0.25">10</text>
<text transform="translate(380.80,742.60) scale(0.9,1)" font-family='"Liberation Sans", sans-serif' font-size="10" fill="#111" stroke="#111" stroke-width="0.2">1</text>
<text transform="translate(409.30,749.00) scale(0.95,1)" font-family='"Liberation Sans", sans-serif' font-size="15.6" fill="#111" stroke="#111" stroke-width="0.25">10</text>
<text transform="translate(426.60,742.60) scale(0.9,1)" font-family='"Liberation Sans", sans-serif' font-size="10" fill="#111" stroke="#111" stroke-width="0.2">2</text>
<text transform="translate(456.00,749.00) scale(0.95,1)" font-family='"Liberation Sans", sans-serif' font-size="15.6" fill="#111" stroke="#111" stroke-width="0.25">10</text>
<text transform="translate(473.30,742.60) scale(0.9,1)" font-family='"Liberation Sans", sans-serif' font-size="10" fill="#111" stroke="#111" stroke-width="0.2">3</text>
<text transform="translate(499.20,749.00) scale(0.95,1)" font-family='"Liberation Sans", sans-serif' font-size="15.6" fill="#111" stroke="#111" stroke-width="0.25">10</text>
<text transform="translate(516.50,742.60) scale(0.9,1)" font-family='"Liberation Sans", sans-serif' font-size="10" fill="#111" stroke="#111" stroke-width="0.2">4</text>
<text transform="translate(422.50,535.80) rotate(0) scale(0.97,1)" font-family='"Liberation Serif", serif' font-size="23" font-style="normal" text-anchor="middle" fill="#111" stroke="#111" stroke-width="0.32">CD34+CD38-</text>
<text transform="translate(418.40,766.00) scale(1.08,1)" font-family='"Liberation Sans", sans-serif' font-size="17.5" font-weight="normal" text-anchor="middle" fill="#111" stroke="#111" stroke-width="0.28">α6</text>
<text transform="translate(293.20,630.70) rotate(-90) scale(0.955,1)" font-family='"Liberation Serif", serif' font-size="23" font-style="normal" text-anchor="middle" fill="#111" stroke="#111" stroke-width="0.32">Cell number</text>
<text transform="translate(0.80,900.30) scale(1.0,1)" font-family='"Liberation Sans", sans-serif' font-size="29" font-weight="bold" text-anchor="start" fill="#000" stroke="#000" stroke-width="0.0">C</text>
<rect x="92.8" y="881.6" width="241.2" height="142.39999999999998" fill="#1a1a1a"/>
<rect x="92.8" y="881.6" width="241.2" height="142.39999999999998" fill="#fff" filter="url(#gn)" opacity="0.055"/>
<g clip-path="url(#gelclip)">
<rect x="148" y="950" width="42" height="32" fill="#888" opacity="0.11" filter="url(#hz)"/>
<rect x="194" y="946" width="44" height="40" fill="#aaa" opacity="0.22" filter="url(#hz)"/>
<rect x="241" y="948" width="42" height="36" fill="#999" opacity="0.17" filter="url(#hz)"/>
<rect x="100" y="892" width="40" height="90" fill="#777" opacity="0.05" filter="url(#hz)"/>
<rect x="101.5" y="900.4" width="37" height="3.2" fill="#ddd" opacity="0.5" filter="url(#b1)"/>
<rect x="101" y="900.2" width="38" height="3.8" fill="#fff" opacity="0.95" filter="url(#sp)"/>
<rect x="103.5" y="957.6" width="35.5" height="3.2" fill="#ddd" opacity="0.5" filter="url(#b1)"/>
<rect x="103" y="957.4" width="36.5" height="3.8" fill="#fff" opacity="0.95" filter="url(#sp)"/>
<rect x="104" y="914" width="7" height="2" fill="#ccc" opacity="0.4" filter="url(#sp)"/>
<rect x="134" y="913.5" width="2.5" height="2" fill="#ccc" opacity="0.3" filter="url(#sp)"/>
<rect x="104" y="924" width="33" height="2.2" fill="#ccc" opacity="0.06" filter="url(#sp)"/>
<rect x="104" y="934.5" width="33" height="2.2" fill="#ccc" opacity="0.1" filter="url(#sp)"/>
<rect x="104" y="942.5" width="33" height="2.2" fill="#ccc" opacity="0.12" filter="url(#sp)"/>
<rect x="104" y="949.3" width="33" height="2.2" fill="#ccc" opacity="0.14" filter="url(#sp)"/>
<rect x="104" y="967.5" width="33" height="2.2" fill="#ccc" opacity="0.16" filter="url(#sp)"/>
<rect x="104" y="975" width="33" height="2.2" fill="#ccc" opacity="0.06" filter="url(#sp)"/>
<rect x="151" y="962" width="36.5" height="6" fill="#aaa" opacity="0.42" filter="url(#b2)"/>
<rect x="151" y="961.6" width="36.5" height="7" fill="#eee" opacity="0.7" filter="url(#sp)"/>
<rect x="153" y="974.8" width="33" height="3" fill="#999" opacity="0.14" filter="url(#b2)"/>
<rect x="153" y="974.3" width="33" height="3.6" fill="#ccc" opacity="0.4" filter="url(#sp)"/>
<rect x="196.5" y="959" width="38" height="9.5" fill="#fff" opacity="0.5" filter="url(#b2)"/>
<rect x="196" y="957.8" width="39" height="12" fill="#fff" opacity="1.0" filter="url(#sp)"/>
<rect x="198.5" y="973.8" width="35" height="4.4" fill="#ccc" opacity="0.22" filter="url(#b2)"/>
<rect x="198" y="972.6" width="35.5" height="6" fill="#fff" opacity="0.7" filter="url(#sp)"/>
<rect x="243.5" y="960" width="37.5" height="7" fill="#fff" opacity="0.45" filter="url(#b2)"/>
<rect x="243" y="959" width="38" height="9" fill="#fff" opacity="1.0" filter="url(#sp)"/>
<rect x="245.5" y="972.6" width="34" height="3.4" fill="#bbb" opacity="0.18" filter="url(#b2)"/>
<rect x="245" y="972" width="34.5" height="4.6" fill="#fff" opacity="0.55" filter="url(#sp)"/>
<circle cx="307.8" cy="923.8" r="0.9" fill="#888"/><circle cx="116.1" cy="891.5" r="1.1" fill="#bbb"/>
</g>
<text transform="translate(12.00,965.20) rotate(0) scale(0.93,1)" font-family='"Liberation Serif", serif' font-size="18.5" font-style="normal" text-anchor="start" fill="#111" stroke="#111" stroke-width="0.32">600 bp</text>
<text transform="translate(12.00,982.50) rotate(0) scale(0.93,1)" font-family='"Liberation Serif", serif' font-size="18.5" font-style="normal" text-anchor="start" fill="#111" stroke="#111" stroke-width="0.32">400 bp</text>
<line x1="71.20" y1="959.80" x2="93.60" y2="959.80" stroke="#050505" stroke-width="3.4" />
<line x1="71.20" y1="977.00" x2="93.60" y2="977.00" stroke="#050505" stroke-width="3.4" />
<line x1="337.30" y1="965.20" x2="356.50" y2="965.20" stroke="#050505" stroke-width="3.2" />
<line x1="337.30" y1="975.20" x2="356.50" y2="975.20" stroke="#050505" stroke-width="3.2" />
<text transform="translate(360.00,964.60) scale(0.95,1)" font-family='"Liberation Sans", sans-serif' font-size="18" font-weight="normal" text-anchor="start" fill="#111" stroke="#111" stroke-width="0.28">α6A</text>
<text transform="translate(360.00,982.90) scale(0.95,1)" font-family='"Liberation Sans", sans-serif' font-size="18" font-weight="normal" text-anchor="start" fill="#111" stroke="#111" stroke-width="0.28">α6B</text>
<text transform="translate(120.50,874.30) rotate(-67) scale(1.0,1)" font-family='"Liberation Serif", serif' font-size="21" font-style="normal" text-anchor="start" fill="#111" stroke="#111" stroke-width="0.32">MW</text>
<text transform="translate(169.00,877.40) rotate(-67) scale(1.0,1)" font-family='"Liberation Serif", serif' font-size="21" font-style="normal" text-anchor="start" fill="#111" stroke="#111" stroke-width="0.32">CD34+CD38-</text>
<text transform="translate(220.00,877.50) rotate(-67) scale(1.0,1)" font-family='"Liberation Serif", serif' font-size="21" font-style="normal" text-anchor="start" fill="#111" stroke="#111" stroke-width="0.32">CD34+</text>
<text transform="translate(266.00,878.00) rotate(-67) scale(1.0,1)" font-family='"Liberation Serif", serif' font-size="21" font-style="normal" text-anchor="start" fill="#111" stroke="#111" stroke-width="0.32">CD34-</text>
<text transform="translate(314.00,880.00) rotate(-67) scale(1.0,1)" font-family='"Liberation Serif", serif' font-size="21" font-style="normal" text-anchor="start" fill="#111" stroke="#111" stroke-width="0.32">Control</text>
</g>
</svg></body></html>
